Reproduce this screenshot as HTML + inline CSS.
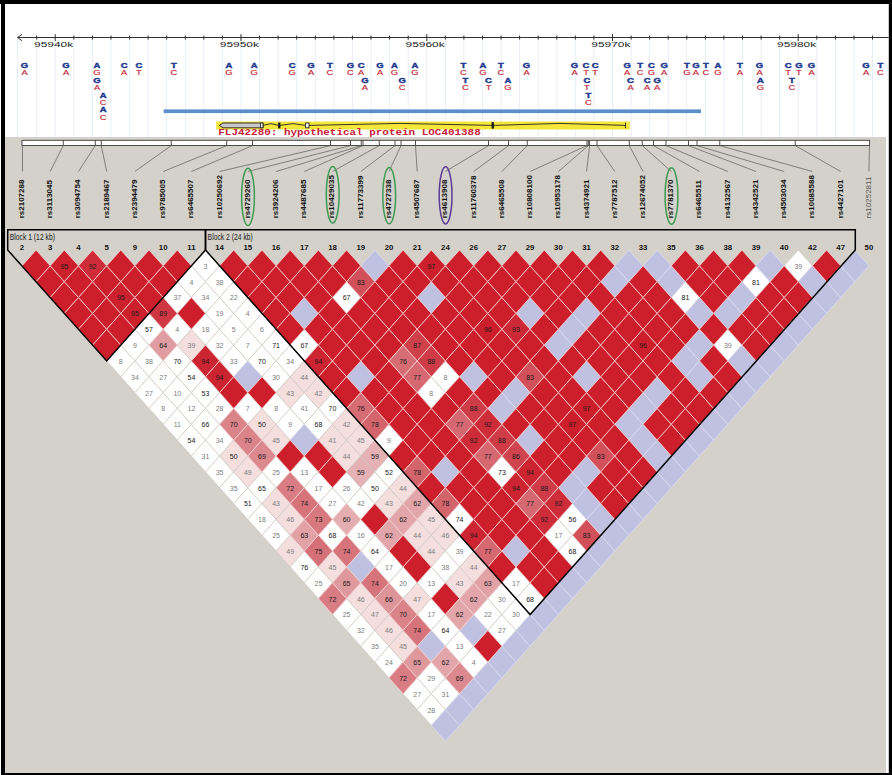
<!DOCTYPE html>
<html><head><meta charset="utf-8"><title>LD plot</title>
<style>
html,body{margin:0;padding:0}
body{width:892px;height:775px;position:relative;overflow:hidden;background:#000;font-family:"Liberation Sans",sans-serif}
text{font-family:"Liberation Sans",sans-serif}
.n{font-size:7.8px;text-anchor:middle}
.ax{font-size:7.1px;text-anchor:middle;fill:#222}
.sb{font-size:8px;font-weight:bold;text-anchor:middle;fill:#22398f;stroke:#22398f;stroke-width:.45px}
.sr{font-size:7.8px;text-anchor:middle;fill:#c4202f;stroke:#c4202f;stroke-width:.15px}
.gl{font-family:"Liberation Mono",monospace;font-size:8.6px;font-weight:bold;fill:#c8203a}
.rs{font-size:8px;font-weight:bold;fill:#111}
.rs2{font-size:8px;fill:#555}
.bl{font-size:8.2px;fill:#222}
.mk{font-size:7.8px;font-weight:bold;text-anchor:middle;fill:#111}
</style></head><body>
<svg width="892" height="775" viewBox="0 0 892 775" style="position:absolute;left:0;top:0">
<rect x="0" y="0" width="892" height="775" fill="#000"/>
<rect x="0" y="4" width="1" height="771" fill="#fff"/>
<rect x="5" y="4" width="883.8" height="133" fill="#fff"/>
<rect x="5" y="137" width="883.8" height="636" fill="#fbfbfa"/>
<rect x="5" y="137" width="881" height="636" fill="#d3d1c9"/>
<g stroke="#e8eef6" stroke-width="1">
<line x1="17.5" y1="33.5" x2="17.5" y2="137"/>
<line x1="36.7" y1="33.5" x2="36.7" y2="137"/>
<line x1="55.2" y1="33.5" x2="55.2" y2="137"/>
<line x1="73.8" y1="33.5" x2="73.8" y2="137"/>
<line x1="92.4" y1="33.5" x2="92.4" y2="137"/>
<line x1="111.0" y1="33.5" x2="111.0" y2="137"/>
<line x1="129.6" y1="33.5" x2="129.6" y2="137"/>
<line x1="148.1" y1="33.5" x2="148.1" y2="137"/>
<line x1="166.7" y1="33.5" x2="166.7" y2="137"/>
<line x1="185.3" y1="33.5" x2="185.3" y2="137"/>
<line x1="203.8" y1="33.5" x2="203.8" y2="137"/>
<line x1="222.4" y1="33.5" x2="222.4" y2="137"/>
<line x1="241.0" y1="33.5" x2="241.0" y2="137"/>
<line x1="259.6" y1="33.5" x2="259.6" y2="137"/>
<line x1="278.1" y1="33.5" x2="278.1" y2="137"/>
<line x1="296.7" y1="33.5" x2="296.7" y2="137"/>
<line x1="315.3" y1="33.5" x2="315.3" y2="137"/>
<line x1="333.9" y1="33.5" x2="333.9" y2="137"/>
<line x1="352.4" y1="33.5" x2="352.4" y2="137"/>
<line x1="371.0" y1="33.5" x2="371.0" y2="137"/>
<line x1="389.6" y1="33.5" x2="389.6" y2="137"/>
<line x1="408.2" y1="33.5" x2="408.2" y2="137"/>
<line x1="426.8" y1="33.5" x2="426.8" y2="137"/>
<line x1="445.3" y1="33.5" x2="445.3" y2="137"/>
<line x1="463.9" y1="33.5" x2="463.9" y2="137"/>
<line x1="482.5" y1="33.5" x2="482.5" y2="137"/>
<line x1="501.1" y1="33.5" x2="501.1" y2="137"/>
<line x1="519.6" y1="33.5" x2="519.6" y2="137"/>
<line x1="538.2" y1="33.5" x2="538.2" y2="137"/>
<line x1="556.8" y1="33.5" x2="556.8" y2="137"/>
<line x1="575.3" y1="33.5" x2="575.3" y2="137"/>
<line x1="593.9" y1="33.5" x2="593.9" y2="137"/>
<line x1="612.5" y1="33.5" x2="612.5" y2="137"/>
<line x1="631.1" y1="33.5" x2="631.1" y2="137"/>
<line x1="649.6" y1="33.5" x2="649.6" y2="137"/>
<line x1="668.2" y1="33.5" x2="668.2" y2="137"/>
<line x1="686.8" y1="33.5" x2="686.8" y2="137"/>
<line x1="705.4" y1="33.5" x2="705.4" y2="137"/>
<line x1="723.9" y1="33.5" x2="723.9" y2="137"/>
<line x1="742.5" y1="33.5" x2="742.5" y2="137"/>
<line x1="761.1" y1="33.5" x2="761.1" y2="137"/>
<line x1="779.7" y1="33.5" x2="779.7" y2="137"/>
<line x1="798.2" y1="33.5" x2="798.2" y2="137"/>
<line x1="816.8" y1="33.5" x2="816.8" y2="137"/>
<line x1="835.4" y1="33.5" x2="835.4" y2="137"/>
<line x1="854.0" y1="33.5" x2="854.0" y2="137"/>
<line x1="872.5" y1="33.5" x2="872.5" y2="137"/>
</g>
<g stroke="#333" stroke-width="1" fill="none">
<line x1="17.5" y1="37.5" x2="888.7" y2="37.5"/>
<polyline points="22,34.3 17.6,37.5 22,40.7"/>
<line x1="36.7" y1="35.6" x2="36.7" y2="39.6"/>
<line x1="55.2" y1="34.2" x2="55.2" y2="41"/>
<line x1="73.8" y1="35.6" x2="73.8" y2="39.6"/>
<line x1="92.4" y1="35.6" x2="92.4" y2="39.6"/>
<line x1="111.0" y1="35.6" x2="111.0" y2="39.6"/>
<line x1="129.6" y1="35.6" x2="129.6" y2="39.6"/>
<line x1="148.1" y1="35.6" x2="148.1" y2="39.6"/>
<line x1="166.7" y1="35.6" x2="166.7" y2="39.6"/>
<line x1="185.3" y1="35.6" x2="185.3" y2="39.6"/>
<line x1="203.8" y1="35.6" x2="203.8" y2="39.6"/>
<line x1="222.4" y1="35.6" x2="222.4" y2="39.6"/>
<line x1="241.0" y1="34.2" x2="241.0" y2="41"/>
<line x1="259.6" y1="35.6" x2="259.6" y2="39.6"/>
<line x1="278.1" y1="35.6" x2="278.1" y2="39.6"/>
<line x1="296.7" y1="35.6" x2="296.7" y2="39.6"/>
<line x1="315.3" y1="35.6" x2="315.3" y2="39.6"/>
<line x1="333.9" y1="35.6" x2="333.9" y2="39.6"/>
<line x1="352.4" y1="35.6" x2="352.4" y2="39.6"/>
<line x1="371.0" y1="35.6" x2="371.0" y2="39.6"/>
<line x1="389.6" y1="35.6" x2="389.6" y2="39.6"/>
<line x1="408.2" y1="35.6" x2="408.2" y2="39.6"/>
<line x1="426.8" y1="34.2" x2="426.8" y2="41"/>
<line x1="445.3" y1="35.6" x2="445.3" y2="39.6"/>
<line x1="463.9" y1="35.6" x2="463.9" y2="39.6"/>
<line x1="482.5" y1="35.6" x2="482.5" y2="39.6"/>
<line x1="501.1" y1="35.6" x2="501.1" y2="39.6"/>
<line x1="519.6" y1="35.6" x2="519.6" y2="39.6"/>
<line x1="538.2" y1="35.6" x2="538.2" y2="39.6"/>
<line x1="556.8" y1="35.6" x2="556.8" y2="39.6"/>
<line x1="575.3" y1="35.6" x2="575.3" y2="39.6"/>
<line x1="593.9" y1="35.6" x2="593.9" y2="39.6"/>
<line x1="612.5" y1="34.2" x2="612.5" y2="41"/>
<line x1="631.1" y1="35.6" x2="631.1" y2="39.6"/>
<line x1="649.6" y1="35.6" x2="649.6" y2="39.6"/>
<line x1="668.2" y1="35.6" x2="668.2" y2="39.6"/>
<line x1="686.8" y1="35.6" x2="686.8" y2="39.6"/>
<line x1="705.4" y1="35.6" x2="705.4" y2="39.6"/>
<line x1="723.9" y1="35.6" x2="723.9" y2="39.6"/>
<line x1="742.5" y1="35.6" x2="742.5" y2="39.6"/>
<line x1="761.1" y1="35.6" x2="761.1" y2="39.6"/>
<line x1="779.7" y1="35.6" x2="779.7" y2="39.6"/>
<line x1="798.2" y1="34.2" x2="798.2" y2="41"/>
<line x1="816.8" y1="35.6" x2="816.8" y2="39.6"/>
<line x1="835.4" y1="35.6" x2="835.4" y2="39.6"/>
<line x1="854.0" y1="35.6" x2="854.0" y2="39.6"/>
<line x1="872.5" y1="35.6" x2="872.5" y2="39.6"/>
</g>
<text transform="translate(53.6,47.3) scale(1.68,1)" class="ax">95940k</text>
<text transform="translate(239.4,47.3) scale(1.68,1)" class="ax">95950k</text>
<text transform="translate(425.1,47.3) scale(1.68,1)" class="ax">95960k</text>
<text transform="translate(610.9,47.3) scale(1.68,1)" class="ax">95970k</text>
<text transform="translate(796.6,47.3) scale(1.68,1)" class="ax">95980k</text>
<text transform="translate(24.5,68.0) scale(1.18,1)" class="sb">G</text>
<text transform="translate(24.5,75.4) scale(1.2,1)" class="sr">A</text>
<text transform="translate(66.0,68.0) scale(1.18,1)" class="sb">G</text>
<text transform="translate(66.0,75.4) scale(1.2,1)" class="sr">A</text>
<text transform="translate(97.0,68.0) scale(1.18,1)" class="sb">A</text>
<text transform="translate(97.0,75.4) scale(1.2,1)" class="sr">G</text>
<text transform="translate(97.0,82.8) scale(1.18,1)" class="sb">G</text>
<text transform="translate(97.0,90.2) scale(1.2,1)" class="sr">A</text>
<text transform="translate(103.2,97.5) scale(1.18,1)" class="sb">A</text>
<text transform="translate(103.2,104.9) scale(1.2,1)" class="sr">C</text>
<text transform="translate(103.2,112.2) scale(1.18,1)" class="sb">A</text>
<text transform="translate(103.2,119.7) scale(1.2,1)" class="sr">C</text>
<text transform="translate(124.2,68.0) scale(1.18,1)" class="sb">C</text>
<text transform="translate(124.2,75.4) scale(1.2,1)" class="sr">A</text>
<text transform="translate(138.8,68.0) scale(1.18,1)" class="sb">C</text>
<text transform="translate(138.8,75.4) scale(1.2,1)" class="sr">T</text>
<text transform="translate(173.8,68.0) scale(1.18,1)" class="sb">T</text>
<text transform="translate(173.8,75.4) scale(1.2,1)" class="sr">C</text>
<text transform="translate(229.0,68.0) scale(1.18,1)" class="sb">A</text>
<text transform="translate(229.0,75.4) scale(1.2,1)" class="sr">G</text>
<text transform="translate(254.2,68.0) scale(1.18,1)" class="sb">A</text>
<text transform="translate(254.2,75.4) scale(1.2,1)" class="sr">G</text>
<text transform="translate(292.2,68.0) scale(1.18,1)" class="sb">C</text>
<text transform="translate(292.2,75.4) scale(1.2,1)" class="sr">G</text>
<text transform="translate(311.0,68.0) scale(1.18,1)" class="sb">G</text>
<text transform="translate(311.0,75.4) scale(1.2,1)" class="sr">A</text>
<text transform="translate(329.8,68.0) scale(1.18,1)" class="sb">T</text>
<text transform="translate(329.8,75.4) scale(1.2,1)" class="sr">C</text>
<text transform="translate(350.5,68.0) scale(1.18,1)" class="sb">G</text>
<text transform="translate(350.5,75.4) scale(1.2,1)" class="sr">C</text>
<text transform="translate(361.2,68.0) scale(1.18,1)" class="sb">C</text>
<text transform="translate(361.2,75.4) scale(1.2,1)" class="sr">A</text>
<text transform="translate(380.0,68.0) scale(1.18,1)" class="sb">G</text>
<text transform="translate(380.0,75.4) scale(1.2,1)" class="sr">A</text>
<text transform="translate(394.5,68.0) scale(1.18,1)" class="sb">A</text>
<text transform="translate(394.5,75.4) scale(1.2,1)" class="sr">G</text>
<text transform="translate(415.0,68.0) scale(1.18,1)" class="sb">A</text>
<text transform="translate(415.0,75.4) scale(1.2,1)" class="sr">G</text>
<text transform="translate(364.8,82.8) scale(1.18,1)" class="sb">G</text>
<text transform="translate(364.8,90.2) scale(1.2,1)" class="sr">A</text>
<text transform="translate(402.2,82.8) scale(1.18,1)" class="sb">G</text>
<text transform="translate(402.2,90.2) scale(1.2,1)" class="sr">C</text>
<text transform="translate(463.5,68.0) scale(1.18,1)" class="sb">T</text>
<text transform="translate(463.5,75.4) scale(1.2,1)" class="sr">C</text>
<text transform="translate(482.8,68.0) scale(1.18,1)" class="sb">A</text>
<text transform="translate(482.8,75.4) scale(1.2,1)" class="sr">G</text>
<text transform="translate(501.0,68.0) scale(1.18,1)" class="sb">T</text>
<text transform="translate(501.0,75.4) scale(1.2,1)" class="sr">C</text>
<text transform="translate(526.5,68.0) scale(1.18,1)" class="sb">G</text>
<text transform="translate(526.5,75.4) scale(1.2,1)" class="sr">A</text>
<text transform="translate(574.5,68.0) scale(1.18,1)" class="sb">G</text>
<text transform="translate(574.5,75.4) scale(1.2,1)" class="sr">A</text>
<text transform="translate(586.0,68.0) scale(1.18,1)" class="sb">C</text>
<text transform="translate(586.0,75.4) scale(1.2,1)" class="sr">T</text>
<text transform="translate(595.2,68.0) scale(1.18,1)" class="sb">C</text>
<text transform="translate(595.2,75.4) scale(1.2,1)" class="sr">T</text>
<text transform="translate(627.2,68.0) scale(1.18,1)" class="sb">G</text>
<text transform="translate(627.2,75.4) scale(1.2,1)" class="sr">A</text>
<text transform="translate(640.2,68.0) scale(1.18,1)" class="sb">T</text>
<text transform="translate(640.2,75.4) scale(1.2,1)" class="sr">C</text>
<text transform="translate(651.5,68.0) scale(1.18,1)" class="sb">C</text>
<text transform="translate(651.5,75.4) scale(1.2,1)" class="sr">G</text>
<text transform="translate(664.2,68.0) scale(1.18,1)" class="sb">G</text>
<text transform="translate(664.2,75.4) scale(1.2,1)" class="sr">A</text>
<text transform="translate(465.5,82.8) scale(1.18,1)" class="sb">T</text>
<text transform="translate(465.5,90.2) scale(1.2,1)" class="sr">C</text>
<text transform="translate(488.5,82.8) scale(1.18,1)" class="sb">C</text>
<text transform="translate(488.5,90.2) scale(1.2,1)" class="sr">T</text>
<text transform="translate(507.8,82.8) scale(1.18,1)" class="sb">A</text>
<text transform="translate(507.8,90.2) scale(1.2,1)" class="sr">G</text>
<text transform="translate(586.8,82.8) scale(1.18,1)" class="sb">C</text>
<text transform="translate(586.8,90.2) scale(1.2,1)" class="sr">T</text>
<text transform="translate(630.5,82.8) scale(1.18,1)" class="sb">C</text>
<text transform="translate(630.5,90.2) scale(1.2,1)" class="sr">A</text>
<text transform="translate(647.2,82.8) scale(1.18,1)" class="sb">C</text>
<text transform="translate(647.2,90.2) scale(1.2,1)" class="sr">A</text>
<text transform="translate(657.2,82.8) scale(1.18,1)" class="sb">G</text>
<text transform="translate(657.2,90.2) scale(1.2,1)" class="sr">A</text>
<text transform="translate(588.5,97.5) scale(1.18,1)" class="sb">T</text>
<text transform="translate(588.5,104.9) scale(1.2,1)" class="sr">C</text>
<text transform="translate(687.0,68.0) scale(1.18,1)" class="sb">T</text>
<text transform="translate(687.0,75.4) scale(1.2,1)" class="sr">G</text>
<text transform="translate(695.8,68.0) scale(1.18,1)" class="sb">G</text>
<text transform="translate(695.8,75.4) scale(1.2,1)" class="sr">A</text>
<text transform="translate(705.8,68.0) scale(1.18,1)" class="sb">T</text>
<text transform="translate(705.8,75.4) scale(1.2,1)" class="sr">C</text>
<text transform="translate(717.8,68.0) scale(1.18,1)" class="sb">A</text>
<text transform="translate(717.8,75.4) scale(1.2,1)" class="sr">G</text>
<text transform="translate(739.8,68.0) scale(1.18,1)" class="sb">T</text>
<text transform="translate(739.8,75.4) scale(1.2,1)" class="sr">A</text>
<text transform="translate(759.5,68.0) scale(1.18,1)" class="sb">G</text>
<text transform="translate(759.5,75.4) scale(1.2,1)" class="sr">A</text>
<text transform="translate(788.2,68.0) scale(1.18,1)" class="sb">C</text>
<text transform="translate(788.2,75.4) scale(1.2,1)" class="sr">T</text>
<text transform="translate(798.8,68.0) scale(1.18,1)" class="sb">G</text>
<text transform="translate(798.8,75.4) scale(1.2,1)" class="sr">T</text>
<text transform="translate(811.5,68.0) scale(1.18,1)" class="sb">G</text>
<text transform="translate(811.5,75.4) scale(1.2,1)" class="sr">A</text>
<text transform="translate(866.0,68.0) scale(1.18,1)" class="sb">G</text>
<text transform="translate(866.0,75.4) scale(1.2,1)" class="sr">A</text>
<text transform="translate(880.5,68.0) scale(1.18,1)" class="sb">T</text>
<text transform="translate(880.5,75.4) scale(1.2,1)" class="sr">C</text>
<text transform="translate(760.5,82.8) scale(1.18,1)" class="sb">A</text>
<text transform="translate(760.5,90.2) scale(1.2,1)" class="sr">G</text>
<text transform="translate(792.0,82.8) scale(1.18,1)" class="sb">T</text>
<text transform="translate(792.0,90.2) scale(1.2,1)" class="sr">C</text>
<rect x="163.7" y="109.4" width="537.3" height="3.7" fill="#5c8fcc"/>
<rect x="216.2" y="121.5" width="413.6" height="8" fill="#f3e73a"/>
<g stroke="#222" stroke-width="0.9" fill="none">
<polygon points="219.3,125.4 223,123 263,123 263,127.8 223,127.8" fill="#c9c9c9"/>
<rect x="260.6" y="123" width="2.4" height="4.8" fill="#fff"/>
<polyline points="263,125.4 271,123.6 278.6,125.4"/>
<polyline points="280,125.4 293,123.6 305.6,125.4"/>
<polyline points="309,125.4 400,123.4 492,125.4"/>
<polyline points="493.5,125.4 560,123.4 625.5,125.4"/>
<rect x="278.6" y="123" width="1.4" height="5" fill="#111"/>
<rect x="305.6" y="123" width="3.4" height="4.8" fill="#fff"/>
<rect x="492" y="122.6" width="1.5" height="5.6" fill="#111"/>
<line x1="625.5" y1="122.6" x2="625.5" y2="128.2"/>
</g>
<text transform="translate(218.3,134.9) scale(1.274,1)" class="gl">FLJ42280: hypothetical protein LOC401388</text>
<g stroke="#3a3a3a" stroke-width="0.9" fill="none">
<rect x="22" y="140.3" width="847.6" height="5.2" fill="#fff"/>
<line x1="63.25" y1="140.3" x2="63.25" y2="145.5"/>
<line x1="95.25" y1="140.3" x2="95.25" y2="145.5"/>
<line x1="101.25" y1="140.3" x2="101.25" y2="145.5"/>
<line x1="171.25" y1="140.3" x2="171.25" y2="145.5"/>
<line x1="226.75" y1="140.3" x2="226.75" y2="145.5"/>
<line x1="252.5" y1="140.3" x2="252.5" y2="145.5"/>
<line x1="330.5" y1="140.3" x2="330.5" y2="145.5"/>
<line x1="350.5" y1="140.3" x2="350.5" y2="145.5"/>
<line x1="361.25" y1="140.3" x2="361.25" y2="145.5"/>
<line x1="363" y1="140.3" x2="363" y2="145.5"/>
<line x1="379.25" y1="140.3" x2="379.25" y2="145.5"/>
<line x1="395" y1="140.3" x2="395" y2="145.5"/>
<line x1="401" y1="140.3" x2="401" y2="145.5"/>
<line x1="415.5" y1="140.3" x2="415.5" y2="145.5"/>
<line x1="488.5" y1="140.3" x2="488.5" y2="145.5"/>
<line x1="508.5" y1="140.3" x2="508.5" y2="145.5"/>
<line x1="527.25" y1="140.3" x2="527.25" y2="145.5"/>
<line x1="587" y1="140.3" x2="587" y2="145.5"/>
<line x1="588.3" y1="140.3" x2="588.3" y2="145.5"/>
<line x1="589.6" y1="140.3" x2="589.6" y2="145.5"/>
<line x1="597" y1="140.3" x2="597" y2="145.5"/>
<line x1="629.25" y1="140.3" x2="629.25" y2="145.5"/>
<line x1="642.25" y1="140.3" x2="642.25" y2="145.5"/>
<line x1="653.5" y1="140.3" x2="653.5" y2="145.5"/>
<line x1="666" y1="140.3" x2="666" y2="145.5"/>
<line x1="688.5" y1="140.3" x2="688.5" y2="145.5"/>
<line x1="697" y1="140.3" x2="697" y2="145.5"/>
<line x1="719.75" y1="140.3" x2="719.75" y2="145.5"/>
<line x1="795.25" y1="140.3" x2="795.25" y2="145.5"/>
</g>
<g stroke="#5a5a58" stroke-width="0.7">
<line x1="22.5" y1="145.6" x2="22.5" y2="171.5"/>
<line x1="63.25" y1="145.6" x2="50.2" y2="171.5"/>
<line x1="95.25" y1="145.6" x2="78.5" y2="171.5"/>
<line x1="101.25" y1="145.6" x2="106.7" y2="171.5"/>
<line x1="171.25" y1="145.6" x2="134.9" y2="171.5"/>
<line x1="226.75" y1="145.6" x2="163.2" y2="171.5"/>
<line x1="252.5" y1="145.6" x2="191.4" y2="171.5"/>
<line x1="330.5" y1="145.6" x2="219.6" y2="171.5"/>
<line x1="350.5" y1="145.6" x2="247.8" y2="171.5"/>
<line x1="361.25" y1="145.6" x2="276.1" y2="171.5"/>
<line x1="363" y1="145.6" x2="304.3" y2="171.5"/>
<line x1="379.25" y1="145.6" x2="332.5" y2="171.5"/>
<line x1="395" y1="145.6" x2="360.8" y2="171.5"/>
<line x1="401" y1="145.6" x2="389.0" y2="171.5"/>
<line x1="415.5" y1="145.6" x2="417.2" y2="171.5"/>
<line x1="488.5" y1="145.6" x2="445.4" y2="171.5"/>
<line x1="508.5" y1="145.6" x2="473.7" y2="171.5"/>
<line x1="527.25" y1="145.6" x2="501.9" y2="171.5"/>
<line x1="587" y1="145.6" x2="530.1" y2="171.5"/>
<line x1="588.3" y1="145.6" x2="558.4" y2="171.5"/>
<line x1="589.6" y1="145.6" x2="586.6" y2="171.5"/>
<line x1="597" y1="145.6" x2="614.8" y2="171.5"/>
<line x1="629.25" y1="145.6" x2="643.1" y2="171.5"/>
<line x1="642.25" y1="145.6" x2="671.3" y2="171.5"/>
<line x1="653.5" y1="145.6" x2="699.5" y2="171.5"/>
<line x1="666" y1="145.6" x2="727.8" y2="171.5"/>
<line x1="688.5" y1="145.6" x2="756.0" y2="171.5"/>
<line x1="697" y1="145.6" x2="784.2" y2="171.5"/>
<line x1="719.75" y1="145.6" x2="812.4" y2="171.5"/>
<line x1="795.25" y1="145.6" x2="840.7" y2="171.5"/>
<line x1="869.5" y1="145.6" x2="868.9" y2="171.5"/>
</g>
<text transform="translate(23.9,218.3) rotate(-90)" class="rs">rs2107288</text>
<text transform="translate(52.1,218.3) rotate(-90)" class="rs">rs3113045</text>
<text transform="translate(80.4,218.3) rotate(-90)" class="rs">rs3094754</text>
<text transform="translate(108.6,218.3) rotate(-90)" class="rs">rs2189467</text>
<text transform="translate(136.8,218.3) rotate(-90)" class="rs">rs2394479</text>
<text transform="translate(165.1,218.3) rotate(-90)" class="rs">rs9785005</text>
<text transform="translate(193.3,218.3) rotate(-90)" class="rs">rs6465507</text>
<text transform="translate(221.5,218.3) rotate(-90)" class="rs">rs10250692</text>
<text transform="translate(249.7,218.3) rotate(-90)" class="rs">rs4729260</text>
<text transform="translate(278.0,218.3) rotate(-90)" class="rs">rs3924206</text>
<text transform="translate(306.2,218.3) rotate(-90)" class="rs">rs4487685</text>
<text transform="translate(334.4,218.3) rotate(-90)" class="rs">rs10429035</text>
<text transform="translate(362.7,218.3) rotate(-90)" class="rs">rs11773399</text>
<text transform="translate(390.9,218.3) rotate(-90)" class="rs">rs4727338</text>
<text transform="translate(419.1,218.3) rotate(-90)" class="rs">rs4507687</text>
<text transform="translate(447.3,218.3) rotate(-90)" class="rs">rs4613908</text>
<text transform="translate(475.6,218.3) rotate(-90)" class="rs">rs11760378</text>
<text transform="translate(503.8,218.3) rotate(-90)" class="rs">rs6465508</text>
<text transform="translate(532.0,218.3) rotate(-90)" class="rs">rs10808100</text>
<text transform="translate(560.3,218.3) rotate(-90)" class="rs">rs10953178</text>
<text transform="translate(588.5,218.3) rotate(-90)" class="rs">rs4374921</text>
<text transform="translate(616.7,218.3) rotate(-90)" class="rs">rs7787512</text>
<text transform="translate(645.0,218.3) rotate(-90)" class="rs">rs12674052</text>
<text transform="translate(673.2,218.3) rotate(-90)" class="rs">rs7781370</text>
<text transform="translate(701.4,218.3) rotate(-90)" class="rs">rs6465511</text>
<text transform="translate(729.6,218.3) rotate(-90)" class="rs">rs4132567</text>
<text transform="translate(757.9,218.3) rotate(-90)" class="rs">rs4342521</text>
<text transform="translate(786.1,218.3) rotate(-90)" class="rs">rs4503034</text>
<text transform="translate(814.3,218.3) rotate(-90)" class="rs">rs10085588</text>
<text transform="translate(842.6,218.3) rotate(-90)" class="rs">rs4427101</text>
<text transform="translate(870.8,218.3) rotate(-90)" class="rs2">rs10252811</text>
<ellipse cx="248.0" cy="196.9" rx="6.4" ry="28.6" fill="none" stroke="#3d9b52" stroke-width="1.5"/>
<ellipse cx="332.7" cy="194.7" rx="6.4" ry="28.3" fill="none" stroke="#3d9b52" stroke-width="1.5"/>
<ellipse cx="389.2" cy="195.7" rx="6.4" ry="28.1" fill="none" stroke="#3d9b52" stroke-width="1.5"/>
<ellipse cx="671.5" cy="196" rx="6.4" ry="28.3" fill="none" stroke="#3d9b52" stroke-width="1.5"/>
<ellipse cx="445.6" cy="195.3" rx="6.4" ry="28.6" fill="none" stroke="#5b3b96" stroke-width="1.5"/>
<text transform="translate(9.7,240.2) scale(.83,1)" class="bl">Block 1 (12 kb)</text>
<text transform="translate(207.6,240.2) scale(.83,1)" class="bl">Block 2 (24 kb)</text>
<text x="22.0" y="250.3" class="mk">2</text>
<text x="50.2" y="250.3" class="mk">3</text>
<text x="78.5" y="250.3" class="mk">4</text>
<text x="106.7" y="250.3" class="mk">5</text>
<text x="134.9" y="250.3" class="mk">9</text>
<text x="163.2" y="250.3" class="mk">10</text>
<text x="191.4" y="250.3" class="mk">11</text>
<text x="219.6" y="250.3" class="mk">14</text>
<text x="247.8" y="250.3" class="mk">15</text>
<text x="276.1" y="250.3" class="mk">16</text>
<text x="304.3" y="250.3" class="mk">17</text>
<text x="332.5" y="250.3" class="mk">18</text>
<text x="360.8" y="250.3" class="mk">19</text>
<text x="389.0" y="250.3" class="mk">20</text>
<text x="417.2" y="250.3" class="mk">21</text>
<text x="445.4" y="250.3" class="mk">24</text>
<text x="473.7" y="250.3" class="mk">26</text>
<text x="501.9" y="250.3" class="mk">27</text>
<text x="530.1" y="250.3" class="mk">29</text>
<text x="558.4" y="250.3" class="mk">30</text>
<text x="586.6" y="250.3" class="mk">31</text>
<text x="614.8" y="250.3" class="mk">32</text>
<text x="643.1" y="250.3" class="mk">33</text>
<text x="671.3" y="250.3" class="mk">35</text>
<text x="699.5" y="250.3" class="mk">36</text>
<text x="727.8" y="250.3" class="mk">38</text>
<text x="756.0" y="250.3" class="mk">39</text>
<text x="784.2" y="250.3" class="mk">40</text>
<text x="812.4" y="250.3" class="mk">42</text>
<text x="840.7" y="250.3" class="mk">47</text>
<text x="868.9" y="250.3" class="mk">50</text>
<g stroke="#cfc8c2" stroke-width="0.7">
<polygon points="120.8,345.0 134.9,360.9 120.8,376.8 106.7,360.9" fill="#ffffff"/>
<polygon points="134.9,360.9 149.0,376.8 134.9,392.6 120.8,376.8" fill="#ffffff"/>
<polygon points="149.0,376.8 163.2,392.6 149.0,408.5 134.9,392.6" fill="#ffffff"/>
<polygon points="163.2,392.6 177.3,408.5 163.2,424.3 149.0,408.5" fill="#ffffff"/>
<polygon points="177.3,408.4 191.4,424.3 177.3,440.2 163.2,424.3" fill="#ffffff"/>
<polygon points="191.4,424.3 205.5,440.1 191.4,456.0 177.3,440.1" fill="#ffffff"/>
<polygon points="205.5,440.1 219.6,456.0 205.5,471.9 191.4,456.0" fill="#ffffff"/>
<polygon points="219.6,456.0 233.7,471.9 219.6,487.7 205.5,471.9" fill="#ffffff"/>
<polygon points="233.7,471.9 247.8,487.7 233.7,503.6 219.6,487.7" fill="#ffffff"/>
<polygon points="247.8,487.7 262.0,503.6 247.8,519.4 233.7,503.6" fill="#ffffff"/>
<polygon points="262.0,503.5 276.1,519.4 262.0,535.2 247.8,519.4" fill="#ffffff"/>
<polygon points="276.1,519.4 290.2,535.2 276.1,551.1 262.0,535.2" fill="#ffffff"/>
<polygon points="290.2,535.2 304.3,551.1 290.2,567.0 276.1,551.1" fill="#f4dede"/>
<polygon points="304.3,551.1 318.4,567.0 304.3,582.8 290.2,567.0" fill="#ffffff"/>
<polygon points="318.4,566.9 332.5,582.8 318.4,598.6 304.3,582.8" fill="#ffffff"/>
<polygon points="346.6,598.6 360.8,614.5 346.6,630.4 332.5,614.5" fill="#ffffff"/>
<polygon points="360.8,614.5 374.9,630.4 360.8,646.2 346.6,630.4" fill="#ffffff"/>
<polygon points="374.9,630.4 389.0,646.2 374.9,662.1 360.8,646.2" fill="#ffffff"/>
<polygon points="389.0,646.2 403.1,662.0 389.0,677.9 374.9,662.0" fill="#ffffff"/>
<polygon points="417.2,677.9 431.3,693.8 417.2,709.6 403.1,693.8" fill="#ffffff"/>
<polygon points="431.3,693.8 445.4,709.6 431.3,725.5 417.2,709.6" fill="#ffffff"/>
<polygon points="134.9,329.2 149.0,345.1 134.9,360.9 120.8,345.1" fill="#ffffff"/>
<polygon points="149.0,345.0 163.2,360.9 149.0,376.8 134.9,360.9" fill="#ffffff"/>
<polygon points="163.2,360.9 177.3,376.8 163.2,392.6 149.0,376.8" fill="#ffffff"/>
<polygon points="177.3,376.8 191.4,392.6 177.3,408.5 163.2,392.6" fill="#ffffff"/>
<polygon points="191.4,392.6 205.5,408.5 191.4,424.3 177.3,408.5" fill="#ffffff"/>
<polygon points="205.5,408.4 219.6,424.3 205.5,440.2 191.4,424.3" fill="#ffffff"/>
<polygon points="219.6,424.3 233.7,440.1 219.6,456.0 205.5,440.1" fill="#ffffff"/>
<polygon points="233.7,440.1 247.8,456.0 233.7,471.9 219.6,456.0" fill="#f4dede"/>
<polygon points="247.8,456.0 262.0,471.9 247.8,487.7 233.7,471.9" fill="#f4dede"/>
<polygon points="262.0,471.9 276.1,487.7 262.0,503.6 247.8,487.7" fill="#ffffff"/>
<polygon points="276.1,487.7 290.2,503.6 276.1,519.4 262.0,503.6" fill="#f4dede"/>
<polygon points="290.2,503.5 304.3,519.4 290.2,535.2 276.1,519.4" fill="#f4dede"/>
<polygon points="332.5,551.1 346.6,567.0 332.5,582.8 318.4,567.0" fill="#f4dede"/>
<polygon points="360.8,582.8 374.9,598.6 360.8,614.5 346.6,598.6" fill="#f4dede"/>
<polygon points="374.9,598.6 389.0,614.5 374.9,630.4 360.8,614.5" fill="#f4dede"/>
<polygon points="389.0,614.5 403.1,630.4 389.0,646.2 374.9,630.4" fill="#f4dede"/>
<polygon points="403.1,630.4 417.2,646.2 403.1,662.1 389.0,646.2" fill="#f4dede"/>
<polygon points="431.3,662.0 445.4,677.9 431.3,693.8 417.2,677.9" fill="#ffffff"/>
<polygon points="445.4,677.9 459.6,693.8 445.4,709.6 431.3,693.8" fill="#ffffff"/>
<polygon points="149.0,313.3 163.2,329.2 149.0,345.1 134.9,329.2" fill="#ffffff"/>
<polygon points="177.3,345.0 191.4,360.9 177.3,376.8 163.2,360.9" fill="#ffffff"/>
<polygon points="191.4,360.9 205.5,376.8 191.4,392.6 177.3,376.8" fill="#ffffff"/>
<polygon points="205.5,376.8 219.6,392.6 205.5,408.5 191.4,392.6" fill="#ffffff"/>
<polygon points="219.6,392.6 233.7,408.5 219.6,424.3 205.5,408.5" fill="#ffffff"/>
<polygon points="276.1,456.0 290.2,471.9 276.1,487.7 262.0,471.9" fill="#ffffff"/>
<polygon points="332.5,519.4 346.6,535.2 332.5,551.1 318.4,535.2" fill="#ffffff"/>
<polygon points="177.3,313.3 191.4,329.2 177.3,345.1 163.2,329.2" fill="#ffffff"/>
<polygon points="191.4,329.2 205.5,345.1 191.4,360.9 177.3,345.1" fill="#f4dede"/>
<polygon points="247.8,392.6 262.0,408.5 247.8,424.3 233.7,408.5" fill="#ffffff"/>
<polygon points="262.0,408.4 276.1,424.3 262.0,440.2 247.8,424.3" fill="#f4dede"/>
<polygon points="276.1,424.3 290.2,440.1 276.1,456.0 262.0,440.1" fill="#f4dede"/>
<polygon points="304.3,456.0 318.4,471.9 304.3,487.7 290.2,471.9" fill="#ffffff"/>
<polygon points="318.4,471.9 332.5,487.7 318.4,503.6 304.3,487.7" fill="#ffffff"/>
<polygon points="332.5,487.7 346.6,503.6 332.5,519.4 318.4,503.6" fill="#ffffff"/>
<polygon points="360.8,519.4 374.9,535.2 360.8,551.1 346.6,535.2" fill="#ffffff"/>
<polygon points="374.9,535.2 389.0,551.1 374.9,567.0 360.8,551.1" fill="#ffffff"/>
<polygon points="389.0,551.1 403.1,567.0 389.0,582.8 374.9,567.0" fill="#ffffff"/>
<polygon points="403.1,566.9 417.2,582.8 403.1,598.6 389.0,582.8" fill="#ffffff"/>
<polygon points="417.2,582.8 431.3,598.6 417.2,614.5 403.1,598.6" fill="#f4dede"/>
<polygon points="431.3,598.6 445.4,614.5 431.3,630.4 417.2,614.5" fill="#ffffff"/>
<polygon points="445.4,614.5 459.6,630.4 445.4,646.2 431.3,630.4" fill="#ffffff"/>
<polygon points="459.6,630.4 473.7,646.2 459.6,662.1 445.4,646.2" fill="#ffffff"/>
<polygon points="473.7,646.2 487.8,662.0 473.7,677.9 459.6,662.0" fill="#ffffff"/>
<polygon points="177.3,281.6 191.4,297.5 177.3,313.4 163.2,297.5" fill="#ffffff"/>
<polygon points="205.5,313.3 219.6,329.2 205.5,345.1 191.4,329.2" fill="#ffffff"/>
<polygon points="219.6,329.2 233.7,345.1 219.6,360.9 205.5,345.1" fill="#ffffff"/>
<polygon points="233.7,345.0 247.8,360.9 233.7,376.8 219.6,360.9" fill="#ffffff"/>
<polygon points="276.1,392.6 290.2,408.5 276.1,424.3 262.0,408.5" fill="#ffffff"/>
<polygon points="290.2,408.4 304.3,424.3 290.2,440.2 276.1,424.3" fill="#ffffff"/>
<polygon points="346.6,471.9 360.8,487.7 346.6,503.6 332.5,487.7" fill="#ffffff"/>
<polygon points="360.8,487.7 374.9,503.6 360.8,519.4 346.6,503.6" fill="#ffffff"/>
<polygon points="431.3,566.9 445.4,582.8 431.3,598.6 417.2,582.8" fill="#ffffff"/>
<polygon points="191.4,265.8 205.5,281.7 191.4,297.5 177.3,281.7" fill="#ffffff"/>
<polygon points="205.5,281.6 219.6,297.5 205.5,313.4 191.4,297.5" fill="#ffffff"/>
<polygon points="219.6,297.5 233.7,313.4 219.6,329.2 205.5,313.4" fill="#ffffff"/>
<polygon points="233.7,313.3 247.8,329.2 233.7,345.1 219.6,329.2" fill="#ffffff"/>
<polygon points="247.8,329.2 262.0,345.1 247.8,360.9 233.7,345.1" fill="#ffffff"/>
<polygon points="262.0,345.0 276.1,360.9 262.0,376.8 247.8,360.9" fill="#ffffff"/>
<polygon points="276.1,360.9 290.2,376.8 276.1,392.6 262.0,376.8" fill="#ffffff"/>
<polygon points="290.2,376.8 304.3,392.6 290.2,408.5 276.1,392.6" fill="#f4dede"/>
<polygon points="304.3,392.6 318.4,408.5 304.3,424.3 290.2,408.5" fill="#ffffff"/>
<polygon points="318.4,408.4 332.5,424.3 318.4,440.2 304.3,424.3" fill="#ffffff"/>
<polygon points="332.5,424.3 346.6,440.1 332.5,456.0 318.4,440.1" fill="#f4dede"/>
<polygon points="346.6,440.1 360.8,456.0 346.6,471.9 332.5,456.0" fill="#f4dede"/>
<polygon points="360.8,456.0 374.9,471.9 360.8,487.7 346.6,471.9" fill="#e5b1b4"/>
<polygon points="374.9,471.9 389.0,487.7 374.9,503.6 360.8,487.7" fill="#ffffff"/>
<polygon points="389.0,487.7 403.1,503.6 389.0,519.4 374.9,503.6" fill="#f4dede"/>
<polygon points="417.2,519.4 431.3,535.2 417.2,551.1 403.1,535.2" fill="#f4dede"/>
<polygon points="431.3,535.2 445.4,551.1 431.3,567.0 417.2,551.1" fill="#f4dede"/>
<polygon points="445.4,551.1 459.6,567.0 445.4,582.8 431.3,567.0" fill="#ffffff"/>
<polygon points="459.6,566.9 473.7,582.8 459.6,598.6 445.4,582.8" fill="#f4dede"/>
<polygon points="487.8,598.6 501.9,614.5 487.8,630.4 473.7,614.5" fill="#ffffff"/>
<polygon points="501.9,614.5 516.0,630.4 501.9,646.2 487.8,630.4" fill="#ffffff"/>
<polygon points="205.5,250.0 219.6,265.8 205.5,281.7 191.4,265.8" fill="#ffffff"/>
<polygon points="219.6,265.8 233.7,281.7 219.6,297.5 205.5,281.7" fill="#ffffff"/>
<polygon points="233.7,281.6 247.8,297.5 233.7,313.4 219.6,297.5" fill="#ffffff"/>
<polygon points="247.8,297.5 262.0,313.4 247.8,329.2 233.7,313.4" fill="#ffffff"/>
<polygon points="262.0,313.3 276.1,329.2 262.0,345.1 247.8,329.2" fill="#ffffff"/>
<polygon points="276.1,329.2 290.2,345.1 276.1,360.9 262.0,345.1" fill="#ffffff"/>
<polygon points="290.2,345.0 304.3,360.9 290.2,376.8 276.1,360.9" fill="#ffffff"/>
<polygon points="304.3,360.9 318.4,376.8 304.3,392.6 290.2,376.8" fill="#f4dede"/>
<polygon points="318.4,376.8 332.5,392.6 318.4,408.5 304.3,392.6" fill="#f4dede"/>
<polygon points="332.5,392.6 346.6,408.5 332.5,424.3 318.4,408.5" fill="#ffffff"/>
<polygon points="346.6,408.4 360.8,424.3 346.6,440.2 332.5,424.3" fill="#f4dede"/>
<polygon points="360.8,424.3 374.9,440.1 360.8,456.0 346.6,440.1" fill="#f4dede"/>
<polygon points="374.9,440.1 389.0,456.0 374.9,471.9 360.8,456.0" fill="#e5b1b4"/>
<polygon points="389.0,456.0 403.1,471.9 389.0,487.7 374.9,471.9" fill="#ffffff"/>
<polygon points="403.1,471.9 417.2,487.7 403.1,503.6 389.0,487.7" fill="#f4dede"/>
<polygon points="431.3,503.5 445.4,519.4 431.3,535.2 417.2,519.4" fill="#f4dede"/>
<polygon points="445.4,519.4 459.6,535.2 445.4,551.1 431.3,535.2" fill="#f4dede"/>
<polygon points="459.6,535.2 473.7,551.1 459.6,567.0 445.4,551.1" fill="#ffffff"/>
<polygon points="473.7,551.1 487.8,567.0 473.7,582.8 459.6,567.0" fill="#f4dede"/>
<polygon points="501.9,582.8 516.0,598.6 501.9,614.5 487.8,598.6" fill="#ffffff"/>
<polygon points="516.0,598.6 530.1,614.5 516.0,630.4 501.9,614.5" fill="#ffffff"/>
<polygon points="304.3,329.2 318.4,345.1 304.3,360.9 290.2,345.1" fill="#ffffff"/>
<polygon points="389.0,424.3 403.1,440.1 389.0,456.0 374.9,440.1" fill="#ffffff"/>
<polygon points="459.6,503.5 473.7,519.4 459.6,535.2 445.4,519.4" fill="#ffffff"/>
<polygon points="516.0,566.9 530.1,582.8 516.0,598.6 501.9,582.8" fill="#ffffff"/>
<polygon points="530.1,582.8 544.3,598.6 530.1,614.5 516.0,598.6" fill="#ffffff"/>
<polygon points="346.6,281.6 360.8,297.5 346.6,313.4 332.5,297.5" fill="#ffffff"/>
<polygon points="431.3,376.8 445.4,392.6 431.3,408.5 417.2,392.6" fill="#ffffff"/>
<polygon points="501.9,456.0 516.0,471.9 501.9,487.7 487.8,471.9" fill="#ffffff"/>
<polygon points="558.4,519.4 572.5,535.2 558.4,551.1 544.3,535.2" fill="#ffffff"/>
<polygon points="572.5,535.2 586.6,551.1 572.5,567.0 558.4,551.1" fill="#ffffff"/>
<polygon points="445.4,360.9 459.6,376.8 445.4,392.6 431.3,376.8" fill="#ffffff"/>
<polygon points="572.5,503.5 586.6,519.4 572.5,535.2 558.4,519.4" fill="#ffffff"/>
<polygon points="685.4,281.6 699.5,297.5 685.4,313.4 671.3,297.5" fill="#ffffff"/>
<polygon points="727.8,329.2 741.9,345.1 727.8,360.9 713.6,345.1" fill="#ffffff"/>
<polygon points="756.0,265.8 770.1,281.7 756.0,297.5 741.9,281.7" fill="#ffffff"/>
<polygon points="798.3,250.0 812.4,265.8 798.3,281.7 784.2,265.8" fill="#ffffff"/>
</g>
<g stroke="#dedef2" stroke-width="0.8">
<polygon points="445.4,709.6 459.6,725.5 445.4,741.3 431.3,725.5" fill="#c0c0e1"/>
<polygon points="459.6,693.8 473.7,709.6 459.6,725.5 445.4,709.6" fill="#c0c0e1"/>
<polygon points="360.8,551.1 374.9,567.0 360.8,582.8 346.6,567.0" fill="#c0c0e1"/>
<polygon points="431.3,630.4 445.4,646.2 431.3,662.1 417.2,646.2" fill="#c0c0e1"/>
<polygon points="473.7,677.9 487.8,693.8 473.7,709.6 459.6,693.8" fill="#c0c0e1"/>
<polygon points="487.8,662.0 501.9,677.9 487.8,693.8 473.7,677.9" fill="#c0c0e1"/>
<polygon points="247.8,360.9 262.0,376.8 247.8,392.6 233.7,376.8" fill="#c0c0e1"/>
<polygon points="304.3,424.3 318.4,440.1 304.3,456.0 290.2,440.1" fill="#c0c0e1"/>
<polygon points="473.7,614.5 487.8,630.4 473.7,646.2 459.6,630.4" fill="#c0c0e1"/>
<polygon points="501.9,646.2 516.0,662.0 501.9,677.9 487.8,662.0" fill="#c0c0e1"/>
<polygon points="516.0,630.4 530.1,646.2 516.0,662.1 501.9,646.2" fill="#c0c0e1"/>
<polygon points="530.1,614.5 544.3,630.4 530.1,646.2 516.0,630.4" fill="#c0c0e1"/>
<polygon points="544.3,598.6 558.4,614.5 544.3,630.4 530.1,614.5" fill="#c0c0e1"/>
<polygon points="304.3,297.5 318.4,313.4 304.3,329.2 290.2,313.4" fill="#c0c0e1"/>
<polygon points="360.8,360.9 374.9,376.8 360.8,392.6 346.6,376.8" fill="#c0c0e1"/>
<polygon points="445.4,456.0 459.6,471.9 445.4,487.7 431.3,471.9" fill="#c0c0e1"/>
<polygon points="516.0,535.2 530.1,551.1 516.0,567.0 501.9,551.1" fill="#c0c0e1"/>
<polygon points="558.4,582.8 572.5,598.6 558.4,614.5 544.3,598.6" fill="#c0c0e1"/>
<polygon points="572.5,566.9 586.6,582.8 572.5,598.6 558.4,582.8" fill="#c0c0e1"/>
<polygon points="586.6,551.1 600.7,567.0 586.6,582.8 572.5,567.0" fill="#c0c0e1"/>
<polygon points="600.7,535.2 614.8,551.1 600.7,567.0 586.6,551.1" fill="#c0c0e1"/>
<polygon points="374.9,250.0 389.0,265.8 374.9,281.7 360.8,265.8" fill="#c0c0e1"/>
<polygon points="473.7,360.9 487.8,376.8 473.7,392.6 459.6,376.8" fill="#c0c0e1"/>
<polygon points="501.9,392.6 516.0,408.5 501.9,424.3 487.8,408.5" fill="#c0c0e1"/>
<polygon points="530.1,424.3 544.3,440.1 530.1,456.0 516.0,440.1" fill="#c0c0e1"/>
<polygon points="572.5,471.9 586.6,487.7 572.5,503.6 558.4,487.7" fill="#c0c0e1"/>
<polygon points="586.6,487.7 600.7,503.6 586.6,519.4 572.5,503.6" fill="#c0c0e1"/>
<polygon points="600.7,503.5 614.8,519.4 600.7,535.2 586.6,519.4" fill="#c0c0e1"/>
<polygon points="614.8,519.4 628.9,535.2 614.8,551.1 600.7,535.2" fill="#c0c0e1"/>
<polygon points="431.3,281.6 445.4,297.5 431.3,313.4 417.2,297.5" fill="#c0c0e1"/>
<polygon points="516.0,376.8 530.1,392.6 516.0,408.5 501.9,392.6" fill="#c0c0e1"/>
<polygon points="586.6,456.0 600.7,471.9 586.6,487.7 572.5,471.9" fill="#c0c0e1"/>
<polygon points="628.9,503.5 643.1,519.4 628.9,535.2 614.8,519.4" fill="#c0c0e1"/>
<polygon points="643.1,487.7 657.2,503.6 643.1,519.4 628.9,503.6" fill="#c0c0e1"/>
<polygon points="657.2,471.9 671.3,487.7 657.2,503.6 643.1,487.7" fill="#c0c0e1"/>
<polygon points="530.1,297.5 544.3,313.4 530.1,329.2 516.0,313.4" fill="#c0c0e1"/>
<polygon points="558.4,329.2 572.5,345.1 558.4,360.9 544.3,345.1" fill="#c0c0e1"/>
<polygon points="586.6,360.9 600.7,376.8 586.6,392.6 572.5,376.8" fill="#c0c0e1"/>
<polygon points="628.9,408.4 643.1,424.3 628.9,440.2 614.8,424.3" fill="#c0c0e1"/>
<polygon points="643.1,424.3 657.2,440.1 643.1,456.0 628.9,440.1" fill="#c0c0e1"/>
<polygon points="657.2,440.1 671.3,456.0 657.2,471.9 643.1,456.0" fill="#c0c0e1"/>
<polygon points="671.3,456.0 685.4,471.9 671.3,487.7 657.2,471.9" fill="#c0c0e1"/>
<polygon points="572.5,313.3 586.6,329.2 572.5,345.1 558.4,329.2" fill="#c0c0e1"/>
<polygon points="643.1,392.6 657.2,408.5 643.1,424.3 628.9,408.5" fill="#c0c0e1"/>
<polygon points="685.4,440.1 699.5,456.0 685.4,471.9 671.3,456.0" fill="#c0c0e1"/>
<polygon points="586.6,297.5 600.7,313.4 586.6,329.2 572.5,313.4" fill="#c0c0e1"/>
<polygon points="657.2,376.8 671.3,392.6 657.2,408.5 643.1,392.6" fill="#c0c0e1"/>
<polygon points="699.5,424.3 713.6,440.1 699.5,456.0 685.4,440.1" fill="#c0c0e1"/>
<polygon points="713.6,408.4 727.8,424.3 713.6,440.2 699.5,424.3" fill="#c0c0e1"/>
<polygon points="614.8,265.8 628.9,281.7 614.8,297.5 600.7,281.7" fill="#c0c0e1"/>
<polygon points="685.4,345.0 699.5,360.9 685.4,376.8 671.3,360.9" fill="#c0c0e1"/>
<polygon points="699.5,360.9 713.6,376.8 699.5,392.6 685.4,376.8" fill="#c0c0e1"/>
<polygon points="727.8,392.6 741.9,408.5 727.8,424.3 713.6,408.5" fill="#c0c0e1"/>
<polygon points="628.9,250.0 643.1,265.8 628.9,281.7 614.8,265.8" fill="#c0c0e1"/>
<polygon points="699.5,329.2 713.6,345.1 699.5,360.9 685.4,345.1" fill="#c0c0e1"/>
<polygon points="741.9,376.8 756.0,392.6 741.9,408.5 727.8,392.6" fill="#c0c0e1"/>
<polygon points="657.2,250.0 671.3,265.8 657.2,281.7 643.1,265.8" fill="#c0c0e1"/>
<polygon points="671.3,265.8 685.4,281.7 671.3,297.5 657.2,281.7" fill="#c0c0e1"/>
<polygon points="699.5,297.5 713.6,313.4 699.5,329.2 685.4,313.4" fill="#c0c0e1"/>
<polygon points="741.9,345.0 756.0,360.9 741.9,376.8 727.8,360.9" fill="#c0c0e1"/>
<polygon points="756.0,360.9 770.1,376.8 756.0,392.6 741.9,376.8" fill="#c0c0e1"/>
<polygon points="727.8,297.5 741.9,313.4 727.8,329.2 713.6,313.4" fill="#c0c0e1"/>
<polygon points="770.1,345.0 784.2,360.9 770.1,376.8 756.0,360.9" fill="#c0c0e1"/>
<polygon points="741.9,281.6 756.0,297.5 741.9,313.4 727.8,297.5" fill="#c0c0e1"/>
<polygon points="784.2,329.2 798.3,345.1 784.2,360.9 770.1,345.1" fill="#c0c0e1"/>
<polygon points="798.3,313.3 812.4,329.2 798.3,345.1 784.2,329.2" fill="#c0c0e1"/>
<polygon points="770.1,250.0 784.2,265.8 770.1,281.7 756.0,265.8" fill="#c0c0e1"/>
<polygon points="812.4,297.5 826.6,313.4 812.4,329.2 798.3,313.4" fill="#c0c0e1"/>
<polygon points="812.4,265.8 826.6,281.7 812.4,297.5 798.3,281.7" fill="#c0c0e1"/>
<polygon points="826.6,281.6 840.7,297.5 826.6,313.4 812.4,297.5" fill="#c0c0e1"/>
<polygon points="840.7,265.8 854.8,281.7 840.7,297.5 826.6,281.7" fill="#c0c0e1"/>
<polygon points="854.8,250.0 868.9,265.8 854.8,281.7 840.7,265.8" fill="#c0c0e1"/>
</g>
<g stroke="#f6d6d6" stroke-width="0.8">
<polygon points="36.1,250.0 50.2,265.8 36.1,281.7 22.0,265.8" fill="#cd1e2b"/>
<polygon points="50.2,265.8 64.3,281.7 50.2,297.5 36.1,281.7" fill="#cd1e2b"/>
<polygon points="64.3,281.6 78.5,297.5 64.3,313.4 50.2,297.5" fill="#cd1e2b"/>
<polygon points="78.5,297.5 92.6,313.4 78.5,329.2 64.3,313.4" fill="#cd1e2b"/>
<polygon points="92.6,313.3 106.7,329.2 92.6,345.1 78.5,329.2" fill="#cd1e2b"/>
<polygon points="106.7,329.2 120.8,345.1 106.7,360.9 92.6,345.1" fill="#cd1e2b"/>
<polygon points="332.5,582.8 346.6,598.6 332.5,614.5 318.4,598.6" fill="#d97c83"/>
<polygon points="403.1,662.0 417.2,677.9 403.1,693.8 389.0,677.9" fill="#d97c83"/>
<polygon points="64.3,250.0 78.5,265.8 64.3,281.7 50.2,265.8" fill="#cd202d"/>
<polygon points="78.5,265.8 92.6,281.7 78.5,297.5 64.3,281.7" fill="#cd1e2b"/>
<polygon points="92.6,281.6 106.7,297.5 92.6,313.4 78.5,297.5" fill="#cd1e2b"/>
<polygon points="106.7,297.5 120.8,313.4 106.7,329.2 92.6,313.4" fill="#cd1e2b"/>
<polygon points="120.8,313.3 134.9,329.2 120.8,345.1 106.7,329.2" fill="#cd1e2b"/>
<polygon points="304.3,519.4 318.4,535.2 304.3,551.1 290.2,535.2" fill="#e1a1a5"/>
<polygon points="318.4,535.2 332.5,551.1 318.4,567.0 304.3,551.1" fill="#d67078"/>
<polygon points="346.6,566.9 360.8,582.8 346.6,598.6 332.5,582.8" fill="#df999d"/>
<polygon points="417.2,646.2 431.3,662.0 417.2,677.9 403.1,662.0" fill="#df999d"/>
<polygon points="92.6,250.0 106.7,265.8 92.6,281.7 78.5,265.8" fill="#ce2c38"/>
<polygon points="106.7,265.8 120.8,281.7 106.7,297.5 92.6,281.7" fill="#cd1e2b"/>
<polygon points="120.8,281.6 134.9,297.5 120.8,313.4 106.7,297.5" fill="#cd202d"/>
<polygon points="134.9,297.5 149.0,313.4 134.9,329.2 120.8,313.4" fill="#cd202d"/>
<polygon points="163.2,329.2 177.3,345.1 163.2,360.9 149.0,345.1" fill="#e09da1"/>
<polygon points="233.7,408.4 247.8,424.3 233.7,440.2 219.6,424.3" fill="#da848a"/>
<polygon points="247.8,424.3 262.0,440.1 247.8,456.0 233.7,440.1" fill="#da848a"/>
<polygon points="262.0,440.1 276.1,456.0 262.0,471.9 247.8,456.0" fill="#db888e"/>
<polygon points="290.2,471.9 304.3,487.7 290.2,503.6 276.1,487.7" fill="#d97c83"/>
<polygon points="304.3,487.7 318.4,503.6 304.3,519.4 290.2,503.6" fill="#d7747b"/>
<polygon points="318.4,503.5 332.5,519.4 318.4,535.2 304.3,519.4" fill="#d8787f"/>
<polygon points="346.6,535.2 360.8,551.1 346.6,567.0 332.5,551.1" fill="#d7747b"/>
<polygon points="374.9,566.9 389.0,582.8 374.9,598.6 360.8,582.8" fill="#d7747b"/>
<polygon points="389.0,582.8 403.1,598.6 389.0,614.5 374.9,598.6" fill="#de9599"/>
<polygon points="403.1,598.6 417.2,614.5 403.1,630.4 389.0,614.5" fill="#da848a"/>
<polygon points="417.2,614.5 431.3,630.4 417.2,646.2 403.1,630.4" fill="#d7747b"/>
<polygon points="445.4,646.2 459.6,662.0 445.4,677.9 431.3,662.0" fill="#e2a5a9"/>
<polygon points="459.6,662.0 473.7,677.9 459.6,693.8 445.4,677.9" fill="#db888e"/>
<polygon points="120.8,250.0 134.9,265.8 120.8,281.7 106.7,265.8" fill="#cd1e2b"/>
<polygon points="134.9,265.8 149.0,281.7 134.9,297.5 120.8,281.7" fill="#cd1e2b"/>
<polygon points="149.0,281.6 163.2,297.5 149.0,313.4 134.9,297.5" fill="#cd1e2b"/>
<polygon points="163.2,297.5 177.3,313.4 163.2,329.2 149.0,313.4" fill="#cf3843"/>
<polygon points="205.5,345.0 219.6,360.9 205.5,376.8 191.4,360.9" fill="#cd2431"/>
<polygon points="219.6,360.9 233.7,376.8 219.6,392.6 205.5,376.8" fill="#cd2431"/>
<polygon points="233.7,376.8 247.8,392.6 233.7,408.5 219.6,392.6" fill="#cd1e2b"/>
<polygon points="290.2,440.1 304.3,456.0 290.2,471.9 276.1,456.0" fill="#cd1e2b"/>
<polygon points="346.6,503.5 360.8,519.4 346.6,535.2 332.5,519.4" fill="#e4adb0"/>
<polygon points="149.0,250.0 163.2,265.8 149.0,281.7 134.9,265.8" fill="#cd1e2b"/>
<polygon points="163.2,265.8 177.3,281.7 163.2,297.5 149.0,281.7" fill="#cd1e2b"/>
<polygon points="191.4,297.5 205.5,313.4 191.4,329.2 177.3,313.4" fill="#cd1e2b"/>
<polygon points="262.0,376.8 276.1,392.6 262.0,408.5 247.8,392.6" fill="#cd1e2b"/>
<polygon points="318.4,440.1 332.5,456.0 318.4,471.9 304.3,456.0" fill="#cd1e2b"/>
<polygon points="332.5,456.0 346.6,471.9 332.5,487.7 318.4,471.9" fill="#cd1e2b"/>
<polygon points="374.9,503.5 389.0,519.4 374.9,535.2 360.8,519.4" fill="#cd1e2b"/>
<polygon points="389.0,519.4 403.1,535.2 389.0,551.1 374.9,535.2" fill="#e2a5a9"/>
<polygon points="403.1,535.2 417.2,551.1 403.1,567.0 389.0,551.1" fill="#cd1e2b"/>
<polygon points="417.2,551.1 431.3,567.0 417.2,582.8 403.1,567.0" fill="#cd1e2b"/>
<polygon points="445.4,582.8 459.6,598.6 445.4,614.5 431.3,598.6" fill="#cd1e2b"/>
<polygon points="459.6,598.6 473.7,614.5 459.6,630.4 445.4,614.5" fill="#e2a5a9"/>
<polygon points="487.8,630.4 501.9,646.2 487.8,662.1 473.7,646.2" fill="#cd1e2b"/>
<polygon points="177.3,250.0 191.4,265.8 177.3,281.7 163.2,265.8" fill="#cd1e2b"/>
<polygon points="403.1,503.5 417.2,519.4 403.1,535.2 389.0,519.4" fill="#e2a5a9"/>
<polygon points="473.7,582.8 487.8,598.6 473.7,614.5 459.6,598.6" fill="#e2a5a9"/>
<polygon points="417.2,487.7 431.3,503.6 417.2,519.4 403.1,503.6" fill="#e2a5a9"/>
<polygon points="487.8,566.9 501.9,582.8 487.8,598.6 473.7,582.8" fill="#e1a1a5"/>
<polygon points="233.7,250.0 247.8,265.8 233.7,281.7 219.6,265.8" fill="#cd1e2b"/>
<polygon points="247.8,265.8 262.0,281.7 247.8,297.5 233.7,281.7" fill="#cd1e2b"/>
<polygon points="262.0,281.6 276.1,297.5 262.0,313.4 247.8,297.5" fill="#cd1e2b"/>
<polygon points="276.1,297.5 290.2,313.4 276.1,329.2 262.0,313.4" fill="#cd1e2b"/>
<polygon points="290.2,313.3 304.3,329.2 290.2,345.1 276.1,329.2" fill="#cd1e2b"/>
<polygon points="318.4,345.0 332.5,360.9 318.4,376.8 304.3,360.9" fill="#cd2431"/>
<polygon points="332.5,360.9 346.6,376.8 332.5,392.6 318.4,376.8" fill="#cd1e2b"/>
<polygon points="346.6,376.8 360.8,392.6 346.6,408.5 332.5,392.6" fill="#cd1e2b"/>
<polygon points="360.8,392.6 374.9,408.5 360.8,424.3 346.6,408.5" fill="#d66c74"/>
<polygon points="374.9,408.4 389.0,424.3 374.9,440.2 360.8,424.3" fill="#d4646c"/>
<polygon points="403.1,440.1 417.2,456.0 403.1,471.9 389.0,456.0" fill="#cd1e2b"/>
<polygon points="417.2,456.0 431.3,471.9 417.2,487.7 403.1,471.9" fill="#d4646c"/>
<polygon points="431.3,471.9 445.4,487.7 431.3,503.6 417.2,487.7" fill="#cd1e2b"/>
<polygon points="445.4,487.7 459.6,503.6 445.4,519.4 431.3,503.6" fill="#d4646c"/>
<polygon points="473.7,519.4 487.8,535.2 473.7,551.1 459.6,535.2" fill="#cd2431"/>
<polygon points="487.8,535.2 501.9,551.1 487.8,567.0 473.7,551.1" fill="#d56870"/>
<polygon points="501.9,551.1 516.0,567.0 501.9,582.8 487.8,567.0" fill="#cd1e2b"/>
<polygon points="262.0,250.0 276.1,265.8 262.0,281.7 247.8,265.8" fill="#cd1e2b"/>
<polygon points="276.1,265.8 290.2,281.7 276.1,297.5 262.0,281.7" fill="#cd1e2b"/>
<polygon points="290.2,281.6 304.3,297.5 290.2,313.4 276.1,297.5" fill="#cd1e2b"/>
<polygon points="318.4,313.3 332.5,329.2 318.4,345.1 304.3,329.2" fill="#cd1e2b"/>
<polygon points="332.5,329.2 346.6,345.1 332.5,360.9 318.4,345.1" fill="#cd1e2b"/>
<polygon points="346.6,345.0 360.8,360.9 346.6,376.8 332.5,360.9" fill="#cd1e2b"/>
<polygon points="374.9,376.8 389.0,392.6 374.9,408.5 360.8,392.6" fill="#cd1e2b"/>
<polygon points="389.0,392.6 403.1,408.5 389.0,424.3 374.9,408.5" fill="#cd1e2b"/>
<polygon points="403.1,408.4 417.2,424.3 403.1,440.2 389.0,424.3" fill="#cd1e2b"/>
<polygon points="417.2,424.3 431.3,440.1 417.2,456.0 403.1,440.1" fill="#cd1e2b"/>
<polygon points="431.3,440.1 445.4,456.0 431.3,471.9 417.2,456.0" fill="#cd1e2b"/>
<polygon points="459.6,471.9 473.7,487.7 459.6,503.6 445.4,487.7" fill="#cd1e2b"/>
<polygon points="473.7,487.7 487.8,503.6 473.7,519.4 459.6,503.6" fill="#cd1e2b"/>
<polygon points="487.8,503.5 501.9,519.4 487.8,535.2 473.7,519.4" fill="#cd1e2b"/>
<polygon points="501.9,519.4 516.0,535.2 501.9,551.1 487.8,535.2" fill="#cd1e2b"/>
<polygon points="530.1,551.1 544.3,567.0 530.1,582.8 516.0,567.0" fill="#cd1e2b"/>
<polygon points="544.3,566.9 558.4,582.8 544.3,598.6 530.1,582.8" fill="#cd1e2b"/>
<polygon points="290.2,250.0 304.3,265.8 290.2,281.7 276.1,265.8" fill="#cd1e2b"/>
<polygon points="304.3,265.8 318.4,281.7 304.3,297.5 290.2,281.7" fill="#cd1e2b"/>
<polygon points="318.4,281.6 332.5,297.5 318.4,313.4 304.3,297.5" fill="#cd1e2b"/>
<polygon points="332.5,297.5 346.6,313.4 332.5,329.2 318.4,313.4" fill="#cd1e2b"/>
<polygon points="346.6,313.3 360.8,329.2 346.6,345.1 332.5,329.2" fill="#cd1e2b"/>
<polygon points="360.8,329.2 374.9,345.1 360.8,360.9 346.6,345.1" fill="#cd1e2b"/>
<polygon points="374.9,345.0 389.0,360.9 374.9,376.8 360.8,360.9" fill="#cd1e2b"/>
<polygon points="389.0,360.9 403.1,376.8 389.0,392.6 374.9,376.8" fill="#cd1e2b"/>
<polygon points="403.1,376.8 417.2,392.6 403.1,408.5 389.0,392.6" fill="#cd1e2b"/>
<polygon points="417.2,392.6 431.3,408.5 417.2,424.3 403.1,408.5" fill="#cd1e2b"/>
<polygon points="431.3,408.4 445.4,424.3 431.3,440.2 417.2,424.3" fill="#cd1e2b"/>
<polygon points="445.4,424.3 459.6,440.1 445.4,456.0 431.3,440.1" fill="#cd1e2b"/>
<polygon points="459.6,440.1 473.7,456.0 459.6,471.9 445.4,456.0" fill="#cd1e2b"/>
<polygon points="473.7,456.0 487.8,471.9 473.7,487.7 459.6,471.9" fill="#cd1e2b"/>
<polygon points="487.8,471.9 501.9,487.7 487.8,503.6 473.7,487.7" fill="#cd1e2b"/>
<polygon points="501.9,487.7 516.0,503.6 501.9,519.4 487.8,503.6" fill="#cd1e2b"/>
<polygon points="516.0,503.5 530.1,519.4 516.0,535.2 501.9,519.4" fill="#cd1e2b"/>
<polygon points="530.1,519.4 544.3,535.2 530.1,551.1 516.0,535.2" fill="#cd1e2b"/>
<polygon points="544.3,535.2 558.4,551.1 544.3,567.0 530.1,551.1" fill="#cd1e2b"/>
<polygon points="558.4,551.1 572.5,567.0 558.4,582.8 544.3,567.0" fill="#cd1e2b"/>
<polygon points="318.4,250.0 332.5,265.8 318.4,281.7 304.3,265.8" fill="#cd1e2b"/>
<polygon points="332.5,265.8 346.6,281.7 332.5,297.5 318.4,281.7" fill="#cd1e2b"/>
<polygon points="360.8,297.5 374.9,313.4 360.8,329.2 346.6,313.4" fill="#cd1e2b"/>
<polygon points="374.9,313.3 389.0,329.2 374.9,345.1 360.8,329.2" fill="#cd1e2b"/>
<polygon points="389.0,329.2 403.1,345.1 389.0,360.9 374.9,345.1" fill="#cd1e2b"/>
<polygon points="403.1,345.0 417.2,360.9 403.1,376.8 389.0,360.9" fill="#d66c74"/>
<polygon points="417.2,360.9 431.3,376.8 417.2,392.6 403.1,376.8" fill="#d56870"/>
<polygon points="445.4,392.6 459.6,408.5 445.4,424.3 431.3,408.5" fill="#cd1e2b"/>
<polygon points="459.6,408.4 473.7,424.3 459.6,440.2 445.4,424.3" fill="#d56870"/>
<polygon points="473.7,424.3 487.8,440.1 473.7,456.0 459.6,440.1" fill="#ce2c38"/>
<polygon points="487.8,440.1 501.9,456.0 487.8,471.9 473.7,456.0" fill="#d56870"/>
<polygon points="516.0,471.9 530.1,487.7 516.0,503.6 501.9,487.7" fill="#cd2431"/>
<polygon points="530.1,487.7 544.3,503.6 530.1,519.4 516.0,503.6" fill="#d56870"/>
<polygon points="544.3,503.5 558.4,519.4 544.3,535.2 530.1,519.4" fill="#ce2c38"/>
<polygon points="346.6,250.0 360.8,265.8 346.6,281.7 332.5,265.8" fill="#cd1e2b"/>
<polygon points="360.8,265.8 374.9,281.7 360.8,297.5 346.6,281.7" fill="#d1505a"/>
<polygon points="374.9,281.6 389.0,297.5 374.9,313.4 360.8,297.5" fill="#cd1e2b"/>
<polygon points="389.0,297.5 403.1,313.4 389.0,329.2 374.9,313.4" fill="#cd1e2b"/>
<polygon points="403.1,313.3 417.2,329.2 403.1,345.1 389.0,329.2" fill="#cd1e2b"/>
<polygon points="417.2,329.2 431.3,345.1 417.2,360.9 403.1,345.1" fill="#cf404b"/>
<polygon points="431.3,345.0 445.4,360.9 431.3,376.8 417.2,360.9" fill="#cf3c47"/>
<polygon points="459.6,376.8 473.7,392.6 459.6,408.5 445.4,392.6" fill="#cd1e2b"/>
<polygon points="473.7,392.6 487.8,408.5 473.7,424.3 459.6,408.5" fill="#cf3c47"/>
<polygon points="487.8,408.4 501.9,424.3 487.8,440.2 473.7,424.3" fill="#ce2c38"/>
<polygon points="501.9,424.3 516.0,440.1 501.9,456.0 487.8,440.1" fill="#cf3c47"/>
<polygon points="516.0,440.1 530.1,456.0 516.0,471.9 501.9,456.0" fill="#d0444f"/>
<polygon points="530.1,456.0 544.3,471.9 530.1,487.7 516.0,471.9" fill="#cd2431"/>
<polygon points="544.3,471.9 558.4,487.7 544.3,503.6 530.1,487.7" fill="#cf3c47"/>
<polygon points="558.4,487.7 572.5,503.6 558.4,519.4 544.3,503.6" fill="#ce2c38"/>
<polygon points="586.6,519.4 600.7,535.2 586.6,551.1 572.5,535.2" fill="#d1505a"/>
<polygon points="389.0,265.8 403.1,281.7 389.0,297.5 374.9,281.7" fill="#cd1e2b"/>
<polygon points="403.1,281.6 417.2,297.5 403.1,313.4 389.0,297.5" fill="#cd1e2b"/>
<polygon points="417.2,297.5 431.3,313.4 417.2,329.2 403.1,313.4" fill="#cd1e2b"/>
<polygon points="431.3,313.3 445.4,329.2 431.3,345.1 417.2,329.2" fill="#cd1e2b"/>
<polygon points="445.4,329.2 459.6,345.1 445.4,360.9 431.3,345.1" fill="#cd1e2b"/>
<polygon points="459.6,345.0 473.7,360.9 459.6,376.8 445.4,360.9" fill="#cd1e2b"/>
<polygon points="487.8,376.8 501.9,392.6 487.8,408.5 473.7,392.6" fill="#cd1e2b"/>
<polygon points="516.0,408.4 530.1,424.3 516.0,440.2 501.9,424.3" fill="#cd1e2b"/>
<polygon points="544.3,440.1 558.4,456.0 544.3,471.9 530.1,456.0" fill="#cd1e2b"/>
<polygon points="558.4,456.0 572.5,471.9 558.4,487.7 544.3,471.9" fill="#cd1e2b"/>
<polygon points="403.1,250.0 417.2,265.8 403.1,281.7 389.0,265.8" fill="#cd1e2b"/>
<polygon points="417.2,265.8 431.3,281.7 417.2,297.5 403.1,281.7" fill="#cd1e2b"/>
<polygon points="445.4,297.5 459.6,313.4 445.4,329.2 431.3,313.4" fill="#cd1e2b"/>
<polygon points="459.6,313.3 473.7,329.2 459.6,345.1 445.4,329.2" fill="#cd1e2b"/>
<polygon points="473.7,329.2 487.8,345.1 473.7,360.9 459.6,345.1" fill="#cd1e2b"/>
<polygon points="487.8,345.0 501.9,360.9 487.8,376.8 473.7,360.9" fill="#cd1e2b"/>
<polygon points="501.9,360.9 516.0,376.8 501.9,392.6 487.8,376.8" fill="#cd1e2b"/>
<polygon points="530.1,392.6 544.3,408.5 530.1,424.3 516.0,408.5" fill="#cd1e2b"/>
<polygon points="544.3,408.4 558.4,424.3 544.3,440.2 530.1,424.3" fill="#cd1e2b"/>
<polygon points="558.4,424.3 572.5,440.1 558.4,456.0 544.3,440.1" fill="#cd1e2b"/>
<polygon points="572.5,440.1 586.6,456.0 572.5,471.9 558.4,456.0" fill="#cd1e2b"/>
<polygon points="600.7,471.9 614.8,487.7 600.7,503.6 586.6,487.7" fill="#cd1e2b"/>
<polygon points="614.8,487.7 628.9,503.6 614.8,519.4 600.7,503.6" fill="#cd1e2b"/>
<polygon points="431.3,250.0 445.4,265.8 431.3,281.7 417.2,265.8" fill="#cd1e2b"/>
<polygon points="445.4,265.8 459.6,281.7 445.4,297.5 431.3,281.7" fill="#cd1e2b"/>
<polygon points="459.6,281.6 473.7,297.5 459.6,313.4 445.4,297.5" fill="#cd1e2b"/>
<polygon points="473.7,297.5 487.8,313.4 473.7,329.2 459.6,313.4" fill="#cd1e2b"/>
<polygon points="487.8,313.3 501.9,329.2 487.8,345.1 473.7,329.2" fill="#cd1e2b"/>
<polygon points="501.9,329.2 516.0,345.1 501.9,360.9 487.8,345.1" fill="#cd1e2b"/>
<polygon points="516.0,345.0 530.1,360.9 516.0,376.8 501.9,360.9" fill="#cd1e2b"/>
<polygon points="530.1,360.9 544.3,376.8 530.1,392.6 516.0,376.8" fill="#d1505a"/>
<polygon points="544.3,376.8 558.4,392.6 544.3,408.5 530.1,392.6" fill="#cd1e2b"/>
<polygon points="558.4,392.6 572.5,408.5 558.4,424.3 544.3,408.5" fill="#cd1e2b"/>
<polygon points="572.5,408.4 586.6,424.3 572.5,440.2 558.4,424.3" fill="#cd1e2b"/>
<polygon points="586.6,424.3 600.7,440.1 586.6,456.0 572.5,440.1" fill="#cd1e2b"/>
<polygon points="600.7,440.1 614.8,456.0 600.7,471.9 586.6,456.0" fill="#d1505a"/>
<polygon points="614.8,456.0 628.9,471.9 614.8,487.7 600.7,471.9" fill="#cd1e2b"/>
<polygon points="628.9,471.9 643.1,487.7 628.9,503.6 614.8,487.7" fill="#cd1e2b"/>
<polygon points="459.6,250.0 473.7,265.8 459.6,281.7 445.4,265.8" fill="#cd1e2b"/>
<polygon points="473.7,265.8 487.8,281.7 473.7,297.5 459.6,281.7" fill="#cd1e2b"/>
<polygon points="487.8,281.6 501.9,297.5 487.8,313.4 473.7,297.5" fill="#cd1e2b"/>
<polygon points="501.9,297.5 516.0,313.4 501.9,329.2 487.8,313.4" fill="#cd1e2b"/>
<polygon points="516.0,313.3 530.1,329.2 516.0,345.1 501.9,329.2" fill="#cd2835"/>
<polygon points="530.1,329.2 544.3,345.1 530.1,360.9 516.0,345.1" fill="#cd1e2b"/>
<polygon points="544.3,345.0 558.4,360.9 544.3,376.8 530.1,360.9" fill="#cd1e2b"/>
<polygon points="558.4,360.9 572.5,376.8 558.4,392.6 544.3,376.8" fill="#cd1e2b"/>
<polygon points="572.5,376.8 586.6,392.6 572.5,408.5 558.4,392.6" fill="#cd1e2b"/>
<polygon points="586.6,392.6 600.7,408.5 586.6,424.3 572.5,408.5" fill="#cd1e2b"/>
<polygon points="600.7,408.4 614.8,424.3 600.7,440.2 586.6,424.3" fill="#cd1e2b"/>
<polygon points="614.8,424.3 628.9,440.1 614.8,456.0 600.7,440.1" fill="#cd1e2b"/>
<polygon points="628.9,440.1 643.1,456.0 628.9,471.9 614.8,456.0" fill="#cd1e2b"/>
<polygon points="643.1,456.0 657.2,471.9 643.1,487.7 628.9,471.9" fill="#cd1e2b"/>
<polygon points="487.8,250.0 501.9,265.8 487.8,281.7 473.7,265.8" fill="#cd1e2b"/>
<polygon points="501.9,265.8 516.0,281.7 501.9,297.5 487.8,281.7" fill="#cd1e2b"/>
<polygon points="516.0,281.6 530.1,297.5 516.0,313.4 501.9,297.5" fill="#cd1e2b"/>
<polygon points="544.3,313.3 558.4,329.2 544.3,345.1 530.1,329.2" fill="#cd1e2b"/>
<polygon points="572.5,345.0 586.6,360.9 572.5,376.8 558.4,360.9" fill="#cd1e2b"/>
<polygon points="600.7,376.8 614.8,392.6 600.7,408.5 586.6,392.6" fill="#cd1e2b"/>
<polygon points="614.8,392.6 628.9,408.5 614.8,424.3 600.7,408.5" fill="#cd1e2b"/>
<polygon points="516.0,250.0 530.1,265.8 516.0,281.7 501.9,265.8" fill="#cd1e2b"/>
<polygon points="530.1,265.8 544.3,281.7 530.1,297.5 516.0,281.7" fill="#cd1e2b"/>
<polygon points="544.3,281.6 558.4,297.5 544.3,313.4 530.1,297.5" fill="#cd1e2b"/>
<polygon points="558.4,297.5 572.5,313.4 558.4,329.2 544.3,313.4" fill="#cd1e2b"/>
<polygon points="586.6,329.2 600.7,345.1 586.6,360.9 572.5,345.1" fill="#cd1e2b"/>
<polygon points="600.7,345.0 614.8,360.9 600.7,376.8 586.6,360.9" fill="#cd1e2b"/>
<polygon points="614.8,360.9 628.9,376.8 614.8,392.6 600.7,376.8" fill="#cd1e2b"/>
<polygon points="628.9,376.8 643.1,392.6 628.9,408.5 614.8,392.6" fill="#cd1e2b"/>
<polygon points="657.2,408.4 671.3,424.3 657.2,440.2 643.1,424.3" fill="#cd1e2b"/>
<polygon points="671.3,424.3 685.4,440.1 671.3,456.0 657.2,440.1" fill="#cd1e2b"/>
<polygon points="544.3,250.0 558.4,265.8 544.3,281.7 530.1,265.8" fill="#cd1e2b"/>
<polygon points="558.4,265.8 572.5,281.7 558.4,297.5 544.3,281.7" fill="#cd1e2b"/>
<polygon points="572.5,281.6 586.6,297.5 572.5,313.4 558.4,297.5" fill="#cd1e2b"/>
<polygon points="600.7,313.3 614.8,329.2 600.7,345.1 586.6,329.2" fill="#cd1e2b"/>
<polygon points="614.8,329.2 628.9,345.1 614.8,360.9 600.7,345.1" fill="#cd1e2b"/>
<polygon points="628.9,345.0 643.1,360.9 628.9,376.8 614.8,360.9" fill="#cd1e2b"/>
<polygon points="643.1,360.9 657.2,376.8 643.1,392.6 628.9,376.8" fill="#cd1e2b"/>
<polygon points="671.3,392.6 685.4,408.5 671.3,424.3 657.2,408.5" fill="#cd1e2b"/>
<polygon points="685.4,408.4 699.5,424.3 685.4,440.2 671.3,424.3" fill="#cd1e2b"/>
<polygon points="572.5,250.0 586.6,265.8 572.5,281.7 558.4,265.8" fill="#cd1e2b"/>
<polygon points="586.6,265.8 600.7,281.7 586.6,297.5 572.5,281.7" fill="#cd1e2b"/>
<polygon points="600.7,281.6 614.8,297.5 600.7,313.4 586.6,297.5" fill="#cd1e2b"/>
<polygon points="614.8,297.5 628.9,313.4 614.8,329.2 600.7,313.4" fill="#cd1e2b"/>
<polygon points="628.9,313.3 643.1,329.2 628.9,345.1 614.8,329.2" fill="#cd1e2b"/>
<polygon points="643.1,329.2 657.2,345.1 643.1,360.9 628.9,345.1" fill="#cd1e2b"/>
<polygon points="657.2,345.0 671.3,360.9 657.2,376.8 643.1,360.9" fill="#cd1e2b"/>
<polygon points="671.3,360.9 685.4,376.8 671.3,392.6 657.2,376.8" fill="#cd1e2b"/>
<polygon points="685.4,376.8 699.5,392.6 685.4,408.5 671.3,392.6" fill="#cd1e2b"/>
<polygon points="699.5,392.6 713.6,408.5 699.5,424.3 685.4,408.5" fill="#cd1e2b"/>
<polygon points="600.7,250.0 614.8,265.8 600.7,281.7 586.6,265.8" fill="#cd1e2b"/>
<polygon points="628.9,281.6 643.1,297.5 628.9,313.4 614.8,297.5" fill="#cd1e2b"/>
<polygon points="643.1,297.5 657.2,313.4 643.1,329.2 628.9,313.4" fill="#cd1e2b"/>
<polygon points="657.2,313.3 671.3,329.2 657.2,345.1 643.1,329.2" fill="#cd1e2b"/>
<polygon points="671.3,329.2 685.4,345.1 671.3,360.9 657.2,345.1" fill="#cd1e2b"/>
<polygon points="713.6,376.8 727.8,392.6 713.6,408.5 699.5,392.6" fill="#cd1e2b"/>
<polygon points="643.1,265.8 657.2,281.7 643.1,297.5 628.9,281.7" fill="#cd1e2b"/>
<polygon points="657.2,281.6 671.3,297.5 657.2,313.4 643.1,297.5" fill="#cd1e2b"/>
<polygon points="671.3,297.5 685.4,313.4 671.3,329.2 657.2,313.4" fill="#cd1e2b"/>
<polygon points="685.4,313.3 699.5,329.2 685.4,345.1 671.3,329.2" fill="#cd1e2b"/>
<polygon points="713.6,345.0 727.8,360.9 713.6,376.8 699.5,360.9" fill="#cd1e2b"/>
<polygon points="727.8,360.9 741.9,376.8 727.8,392.6 713.6,376.8" fill="#cd1e2b"/>
<polygon points="713.6,313.3 727.8,329.2 713.6,345.1 699.5,329.2" fill="#cd1e2b"/>
<polygon points="685.4,250.0 699.5,265.8 685.4,281.7 671.3,265.8" fill="#cd1e2b"/>
<polygon points="699.5,265.8 713.6,281.7 699.5,297.5 685.4,281.7" fill="#cd1e2b"/>
<polygon points="713.6,281.6 727.8,297.5 713.6,313.4 699.5,297.5" fill="#cd1e2b"/>
<polygon points="741.9,313.3 756.0,329.2 741.9,345.1 727.8,329.2" fill="#cd1e2b"/>
<polygon points="756.0,329.2 770.1,345.1 756.0,360.9 741.9,345.1" fill="#cd1e2b"/>
<polygon points="713.6,250.0 727.8,265.8 713.6,281.7 699.5,265.8" fill="#cd1e2b"/>
<polygon points="727.8,265.8 741.9,281.7 727.8,297.5 713.6,281.7" fill="#cd1e2b"/>
<polygon points="756.0,297.5 770.1,313.4 756.0,329.2 741.9,313.4" fill="#cd1e2b"/>
<polygon points="770.1,313.3 784.2,329.2 770.1,345.1 756.0,329.2" fill="#cd1e2b"/>
<polygon points="741.9,250.0 756.0,265.8 741.9,281.7 727.8,265.8" fill="#cd1e2b"/>
<polygon points="770.1,281.6 784.2,297.5 770.1,313.4 756.0,297.5" fill="#cd1e2b"/>
<polygon points="784.2,297.5 798.3,313.4 784.2,329.2 770.1,313.4" fill="#cd1e2b"/>
<polygon points="784.2,265.8 798.3,281.7 784.2,297.5 770.1,281.7" fill="#cd1e2b"/>
<polygon points="798.3,281.6 812.4,297.5 798.3,313.4 784.2,297.5" fill="#cd1e2b"/>
<polygon points="826.6,250.0 840.7,265.8 826.6,281.7 812.4,265.8" fill="#cd1e2b"/>
</g>
<text transform="translate(120.8,363.8) scale(.9,1)" class="n" fill="#7d7d7d">8</text>
<text transform="translate(134.9,379.6) scale(.9,1)" class="n" fill="#7d7d7d">34</text>
<text transform="translate(149.0,395.5) scale(.9,1)" class="n" fill="#7d7d7d">27</text>
<text transform="translate(163.2,411.4) scale(.9,1)" class="n" fill="#7d7d7d">8</text>
<text transform="translate(177.3,427.2) scale(.9,1)" class="n" fill="#7d7d7d">11</text>
<text transform="translate(191.4,443.0) scale(.9,1)" class="n" fill="#1a1a1a">54</text>
<text transform="translate(205.5,458.9) scale(.9,1)" class="n" fill="#7d7d7d">31</text>
<text transform="translate(219.6,474.8) scale(.9,1)" class="n" fill="#7d7d7d">35</text>
<text transform="translate(233.7,490.6) scale(.9,1)" class="n" fill="#7d7d7d">35</text>
<text transform="translate(247.8,506.4) scale(.9,1)" class="n" fill="#1a1a1a">51</text>
<text transform="translate(262.0,522.3) scale(.9,1)" class="n" fill="#7d7d7d">18</text>
<text transform="translate(276.1,538.1) scale(.9,1)" class="n" fill="#7d7d7d">25</text>
<text transform="translate(290.2,554.0) scale(.9,1)" class="n" fill="#7d7d7d">49</text>
<text transform="translate(304.3,569.9) scale(.9,1)" class="n" fill="#1a1a1a">76</text>
<text transform="translate(318.4,585.7) scale(.9,1)" class="n" fill="#7d7d7d">25</text>
<text transform="translate(332.5,601.5) scale(.9,1)" class="n" fill="#1a1a1a">72</text>
<text transform="translate(346.6,617.4) scale(.9,1)" class="n" fill="#7d7d7d">25</text>
<text transform="translate(360.8,633.2) scale(.9,1)" class="n" fill="#7d7d7d">32</text>
<text transform="translate(374.9,649.1) scale(.9,1)" class="n" fill="#7d7d7d">35</text>
<text transform="translate(389.0,664.9) scale(.9,1)" class="n" fill="#7d7d7d">24</text>
<text transform="translate(403.1,680.8) scale(.9,1)" class="n" fill="#1a1a1a">72</text>
<text transform="translate(417.2,696.6) scale(.9,1)" class="n" fill="#7d7d7d">27</text>
<text transform="translate(431.3,712.5) scale(.9,1)" class="n" fill="#7d7d7d">28</text>
<text transform="translate(64.3,268.7) scale(.9,1)" class="n" fill="#1a1a1a">95</text>
<text transform="translate(134.9,347.9) scale(.9,1)" class="n" fill="#7d7d7d">9</text>
<text transform="translate(149.0,363.8) scale(.9,1)" class="n" fill="#7d7d7d">38</text>
<text transform="translate(163.2,379.6) scale(.9,1)" class="n" fill="#7d7d7d">27</text>
<text transform="translate(177.3,395.5) scale(.9,1)" class="n" fill="#7d7d7d">10</text>
<text transform="translate(191.4,411.4) scale(.9,1)" class="n" fill="#7d7d7d">12</text>
<text transform="translate(205.5,427.2) scale(.9,1)" class="n" fill="#1a1a1a">66</text>
<text transform="translate(219.6,443.0) scale(.9,1)" class="n" fill="#7d7d7d">34</text>
<text transform="translate(233.7,458.9) scale(.9,1)" class="n" fill="#1a1a1a">50</text>
<text transform="translate(247.8,474.8) scale(.9,1)" class="n" fill="#7d7d7d">49</text>
<text transform="translate(262.0,490.6) scale(.9,1)" class="n" fill="#1a1a1a">65</text>
<text transform="translate(276.1,506.4) scale(.9,1)" class="n" fill="#7d7d7d">43</text>
<text transform="translate(290.2,522.3) scale(.9,1)" class="n" fill="#7d7d7d">46</text>
<text transform="translate(304.3,538.1) scale(.9,1)" class="n" fill="#1a1a1a">63</text>
<text transform="translate(318.4,554.0) scale(.9,1)" class="n" fill="#1a1a1a">75</text>
<text transform="translate(332.5,569.9) scale(.9,1)" class="n" fill="#7d7d7d">45</text>
<text transform="translate(346.6,585.7) scale(.9,1)" class="n" fill="#1a1a1a">65</text>
<text transform="translate(360.8,601.5) scale(.9,1)" class="n" fill="#7d7d7d">46</text>
<text transform="translate(374.9,617.4) scale(.9,1)" class="n" fill="#7d7d7d">47</text>
<text transform="translate(389.0,633.2) scale(.9,1)" class="n" fill="#7d7d7d">46</text>
<text transform="translate(403.1,649.1) scale(.9,1)" class="n" fill="#7d7d7d">45</text>
<text transform="translate(417.2,664.9) scale(.9,1)" class="n" fill="#1a1a1a">65</text>
<text transform="translate(431.3,680.8) scale(.9,1)" class="n" fill="#7d7d7d">29</text>
<text transform="translate(445.4,696.6) scale(.9,1)" class="n" fill="#7d7d7d">31</text>
<text transform="translate(92.6,268.7) scale(.9,1)" class="n" fill="#1a1a1a">92</text>
<text transform="translate(120.8,300.4) scale(.9,1)" class="n" fill="#1a1a1a">95</text>
<text transform="translate(134.9,316.2) scale(.9,1)" class="n" fill="#1a1a1a">95</text>
<text transform="translate(149.0,332.1) scale(.9,1)" class="n" fill="#1a1a1a">57</text>
<text transform="translate(163.2,347.9) scale(.9,1)" class="n" fill="#1a1a1a">64</text>
<text transform="translate(177.3,363.8) scale(.9,1)" class="n" fill="#1a1a1a">70</text>
<text transform="translate(191.4,379.6) scale(.9,1)" class="n" fill="#1a1a1a">54</text>
<text transform="translate(205.5,395.5) scale(.9,1)" class="n" fill="#1a1a1a">53</text>
<text transform="translate(219.6,411.4) scale(.9,1)" class="n" fill="#7d7d7d">28</text>
<text transform="translate(233.7,427.2) scale(.9,1)" class="n" fill="#1a1a1a">70</text>
<text transform="translate(247.8,443.0) scale(.9,1)" class="n" fill="#1a1a1a">70</text>
<text transform="translate(262.0,458.9) scale(.9,1)" class="n" fill="#1a1a1a">69</text>
<text transform="translate(276.1,474.8) scale(.9,1)" class="n" fill="#7d7d7d">25</text>
<text transform="translate(290.2,490.6) scale(.9,1)" class="n" fill="#1a1a1a">72</text>
<text transform="translate(304.3,506.4) scale(.9,1)" class="n" fill="#1a1a1a">74</text>
<text transform="translate(318.4,522.3) scale(.9,1)" class="n" fill="#1a1a1a">73</text>
<text transform="translate(332.5,538.1) scale(.9,1)" class="n" fill="#1a1a1a">68</text>
<text transform="translate(346.6,554.0) scale(.9,1)" class="n" fill="#1a1a1a">74</text>
<text transform="translate(374.9,585.7) scale(.9,1)" class="n" fill="#1a1a1a">74</text>
<text transform="translate(389.0,601.5) scale(.9,1)" class="n" fill="#1a1a1a">66</text>
<text transform="translate(403.1,617.4) scale(.9,1)" class="n" fill="#1a1a1a">70</text>
<text transform="translate(417.2,633.2) scale(.9,1)" class="n" fill="#1a1a1a">74</text>
<text transform="translate(445.4,664.9) scale(.9,1)" class="n" fill="#1a1a1a">62</text>
<text transform="translate(459.6,680.8) scale(.9,1)" class="n" fill="#1a1a1a">69</text>
<text transform="translate(163.2,316.2) scale(.9,1)" class="n" fill="#1a1a1a">89</text>
<text transform="translate(177.3,332.1) scale(.9,1)" class="n" fill="#7d7d7d">4</text>
<text transform="translate(191.4,347.9) scale(.9,1)" class="n" fill="#7d7d7d">39</text>
<text transform="translate(205.5,363.8) scale(.9,1)" class="n" fill="#1a1a1a">94</text>
<text transform="translate(219.6,379.6) scale(.9,1)" class="n" fill="#1a1a1a">94</text>
<text transform="translate(247.8,411.4) scale(.9,1)" class="n" fill="#7d7d7d">7</text>
<text transform="translate(262.0,427.2) scale(.9,1)" class="n" fill="#1a1a1a">50</text>
<text transform="translate(276.1,443.0) scale(.9,1)" class="n" fill="#7d7d7d">45</text>
<text transform="translate(304.3,474.8) scale(.9,1)" class="n" fill="#7d7d7d">13</text>
<text transform="translate(318.4,490.6) scale(.9,1)" class="n" fill="#7d7d7d">17</text>
<text transform="translate(332.5,506.4) scale(.9,1)" class="n" fill="#7d7d7d">27</text>
<text transform="translate(346.6,522.3) scale(.9,1)" class="n" fill="#1a1a1a">60</text>
<text transform="translate(360.8,538.1) scale(.9,1)" class="n" fill="#7d7d7d">16</text>
<text transform="translate(374.9,554.0) scale(.9,1)" class="n" fill="#1a1a1a">64</text>
<text transform="translate(389.0,569.9) scale(.9,1)" class="n" fill="#7d7d7d">17</text>
<text transform="translate(403.1,585.7) scale(.9,1)" class="n" fill="#7d7d7d">20</text>
<text transform="translate(417.2,601.5) scale(.9,1)" class="n" fill="#7d7d7d">47</text>
<text transform="translate(431.3,617.4) scale(.9,1)" class="n" fill="#7d7d7d">17</text>
<text transform="translate(445.4,633.2) scale(.9,1)" class="n" fill="#1a1a1a">64</text>
<text transform="translate(459.6,649.1) scale(.9,1)" class="n" fill="#7d7d7d">13</text>
<text transform="translate(473.7,664.9) scale(.9,1)" class="n" fill="#7d7d7d">4</text>
<text transform="translate(177.3,300.4) scale(.9,1)" class="n" fill="#7d7d7d">37</text>
<text transform="translate(205.5,332.1) scale(.9,1)" class="n" fill="#7d7d7d">18</text>
<text transform="translate(219.6,347.9) scale(.9,1)" class="n" fill="#7d7d7d">32</text>
<text transform="translate(233.7,363.8) scale(.9,1)" class="n" fill="#7d7d7d">33</text>
<text transform="translate(276.1,411.4) scale(.9,1)" class="n" fill="#7d7d7d">8</text>
<text transform="translate(290.2,427.2) scale(.9,1)" class="n" fill="#7d7d7d">9</text>
<text transform="translate(346.6,490.6) scale(.9,1)" class="n" fill="#7d7d7d">26</text>
<text transform="translate(360.8,506.4) scale(.9,1)" class="n" fill="#7d7d7d">42</text>
<text transform="translate(389.0,538.1) scale(.9,1)" class="n" fill="#1a1a1a">62</text>
<text transform="translate(431.3,585.7) scale(.9,1)" class="n" fill="#7d7d7d">13</text>
<text transform="translate(459.6,617.4) scale(.9,1)" class="n" fill="#1a1a1a">62</text>
<text transform="translate(191.4,284.6) scale(.9,1)" class="n" fill="#7d7d7d">4</text>
<text transform="translate(205.5,300.4) scale(.9,1)" class="n" fill="#7d7d7d">34</text>
<text transform="translate(219.6,316.2) scale(.9,1)" class="n" fill="#7d7d7d">19</text>
<text transform="translate(233.7,332.1) scale(.9,1)" class="n" fill="#7d7d7d">5</text>
<text transform="translate(247.8,347.9) scale(.9,1)" class="n" fill="#7d7d7d">7</text>
<text transform="translate(262.0,363.8) scale(.9,1)" class="n" fill="#1a1a1a">70</text>
<text transform="translate(276.1,379.6) scale(.9,1)" class="n" fill="#7d7d7d">30</text>
<text transform="translate(290.2,395.5) scale(.9,1)" class="n" fill="#7d7d7d">43</text>
<text transform="translate(304.3,411.4) scale(.9,1)" class="n" fill="#7d7d7d">41</text>
<text transform="translate(318.4,427.2) scale(.9,1)" class="n" fill="#1a1a1a">68</text>
<text transform="translate(332.5,443.0) scale(.9,1)" class="n" fill="#7d7d7d">41</text>
<text transform="translate(346.6,458.9) scale(.9,1)" class="n" fill="#7d7d7d">44</text>
<text transform="translate(360.8,474.8) scale(.9,1)" class="n" fill="#1a1a1a">59</text>
<text transform="translate(374.9,490.6) scale(.9,1)" class="n" fill="#1a1a1a">50</text>
<text transform="translate(389.0,506.4) scale(.9,1)" class="n" fill="#7d7d7d">43</text>
<text transform="translate(403.1,522.3) scale(.9,1)" class="n" fill="#1a1a1a">62</text>
<text transform="translate(417.2,538.1) scale(.9,1)" class="n" fill="#7d7d7d">44</text>
<text transform="translate(431.3,554.0) scale(.9,1)" class="n" fill="#7d7d7d">44</text>
<text transform="translate(445.4,569.9) scale(.9,1)" class="n" fill="#7d7d7d">38</text>
<text transform="translate(459.6,585.7) scale(.9,1)" class="n" fill="#7d7d7d">43</text>
<text transform="translate(473.7,601.5) scale(.9,1)" class="n" fill="#1a1a1a">62</text>
<text transform="translate(487.8,617.4) scale(.9,1)" class="n" fill="#7d7d7d">22</text>
<text transform="translate(501.9,633.2) scale(.9,1)" class="n" fill="#7d7d7d">27</text>
<text transform="translate(205.5,268.7) scale(.9,1)" class="n" fill="#7d7d7d">3</text>
<text transform="translate(219.6,284.6) scale(.9,1)" class="n" fill="#7d7d7d">38</text>
<text transform="translate(233.7,300.4) scale(.9,1)" class="n" fill="#7d7d7d">22</text>
<text transform="translate(247.8,316.2) scale(.9,1)" class="n" fill="#7d7d7d">4</text>
<text transform="translate(262.0,332.1) scale(.9,1)" class="n" fill="#7d7d7d">6</text>
<text transform="translate(276.1,347.9) scale(.9,1)" class="n" fill="#1a1a1a">71</text>
<text transform="translate(290.2,363.8) scale(.9,1)" class="n" fill="#7d7d7d">34</text>
<text transform="translate(304.3,379.6) scale(.9,1)" class="n" fill="#7d7d7d">44</text>
<text transform="translate(318.4,395.5) scale(.9,1)" class="n" fill="#7d7d7d">42</text>
<text transform="translate(332.5,411.4) scale(.9,1)" class="n" fill="#1a1a1a">70</text>
<text transform="translate(346.6,427.2) scale(.9,1)" class="n" fill="#7d7d7d">42</text>
<text transform="translate(360.8,443.0) scale(.9,1)" class="n" fill="#7d7d7d">45</text>
<text transform="translate(374.9,458.9) scale(.9,1)" class="n" fill="#1a1a1a">59</text>
<text transform="translate(389.0,474.8) scale(.9,1)" class="n" fill="#1a1a1a">52</text>
<text transform="translate(403.1,490.6) scale(.9,1)" class="n" fill="#7d7d7d">44</text>
<text transform="translate(417.2,506.4) scale(.9,1)" class="n" fill="#1a1a1a">62</text>
<text transform="translate(431.3,522.3) scale(.9,1)" class="n" fill="#7d7d7d">45</text>
<text transform="translate(445.4,538.1) scale(.9,1)" class="n" fill="#7d7d7d">46</text>
<text transform="translate(459.6,554.0) scale(.9,1)" class="n" fill="#7d7d7d">39</text>
<text transform="translate(473.7,569.9) scale(.9,1)" class="n" fill="#7d7d7d">44</text>
<text transform="translate(487.8,585.7) scale(.9,1)" class="n" fill="#1a1a1a">63</text>
<text transform="translate(501.9,601.5) scale(.9,1)" class="n" fill="#7d7d7d">30</text>
<text transform="translate(516.0,617.4) scale(.9,1)" class="n" fill="#7d7d7d">30</text>
<text transform="translate(304.3,347.9) scale(.9,1)" class="n" fill="#1a1a1a">67</text>
<text transform="translate(318.4,363.8) scale(.9,1)" class="n" fill="#1a1a1a">94</text>
<text transform="translate(360.8,411.4) scale(.9,1)" class="n" fill="#1a1a1a">76</text>
<text transform="translate(374.9,427.2) scale(.9,1)" class="n" fill="#1a1a1a">78</text>
<text transform="translate(389.0,443.0) scale(.9,1)" class="n" fill="#7d7d7d">9</text>
<text transform="translate(417.2,474.8) scale(.9,1)" class="n" fill="#1a1a1a">78</text>
<text transform="translate(445.4,506.4) scale(.9,1)" class="n" fill="#1a1a1a">78</text>
<text transform="translate(459.6,522.3) scale(.9,1)" class="n" fill="#1a1a1a">74</text>
<text transform="translate(473.7,538.1) scale(.9,1)" class="n" fill="#1a1a1a">94</text>
<text transform="translate(487.8,554.0) scale(.9,1)" class="n" fill="#1a1a1a">77</text>
<text transform="translate(516.0,585.7) scale(.9,1)" class="n" fill="#7d7d7d">17</text>
<text transform="translate(530.1,601.5) scale(.9,1)" class="n" fill="#1a1a1a">68</text>
<text transform="translate(346.6,300.4) scale(.9,1)" class="n" fill="#1a1a1a">67</text>
<text transform="translate(403.1,363.8) scale(.9,1)" class="n" fill="#1a1a1a">76</text>
<text transform="translate(417.2,379.6) scale(.9,1)" class="n" fill="#1a1a1a">77</text>
<text transform="translate(431.3,395.5) scale(.9,1)" class="n" fill="#7d7d7d">8</text>
<text transform="translate(459.6,427.2) scale(.9,1)" class="n" fill="#1a1a1a">77</text>
<text transform="translate(473.7,443.0) scale(.9,1)" class="n" fill="#1a1a1a">92</text>
<text transform="translate(487.8,458.9) scale(.9,1)" class="n" fill="#1a1a1a">77</text>
<text transform="translate(501.9,474.8) scale(.9,1)" class="n" fill="#1a1a1a">73</text>
<text transform="translate(516.0,490.6) scale(.9,1)" class="n" fill="#1a1a1a">94</text>
<text transform="translate(530.1,506.4) scale(.9,1)" class="n" fill="#1a1a1a">77</text>
<text transform="translate(544.3,522.3) scale(.9,1)" class="n" fill="#1a1a1a">92</text>
<text transform="translate(558.4,538.1) scale(.9,1)" class="n" fill="#7d7d7d">17</text>
<text transform="translate(572.5,554.0) scale(.9,1)" class="n" fill="#1a1a1a">68</text>
<text transform="translate(360.8,284.6) scale(.9,1)" class="n" fill="#1a1a1a">83</text>
<text transform="translate(417.2,347.9) scale(.9,1)" class="n" fill="#1a1a1a">87</text>
<text transform="translate(431.3,363.8) scale(.9,1)" class="n" fill="#1a1a1a">88</text>
<text transform="translate(445.4,379.6) scale(.9,1)" class="n" fill="#7d7d7d">8</text>
<text transform="translate(473.7,411.4) scale(.9,1)" class="n" fill="#1a1a1a">88</text>
<text transform="translate(487.8,427.2) scale(.9,1)" class="n" fill="#1a1a1a">92</text>
<text transform="translate(501.9,443.0) scale(.9,1)" class="n" fill="#1a1a1a">88</text>
<text transform="translate(516.0,458.9) scale(.9,1)" class="n" fill="#1a1a1a">86</text>
<text transform="translate(530.1,474.8) scale(.9,1)" class="n" fill="#1a1a1a">94</text>
<text transform="translate(544.3,490.6) scale(.9,1)" class="n" fill="#1a1a1a">88</text>
<text transform="translate(558.4,506.4) scale(.9,1)" class="n" fill="#1a1a1a">92</text>
<text transform="translate(572.5,522.3) scale(.9,1)" class="n" fill="#1a1a1a">56</text>
<text transform="translate(586.6,538.1) scale(.9,1)" class="n" fill="#1a1a1a">83</text>
<text transform="translate(431.3,268.7) scale(.9,1)" class="n" fill="#1a1a1a">97</text>
<text transform="translate(487.8,332.1) scale(.9,1)" class="n" fill="#1a1a1a">96</text>
<text transform="translate(530.1,379.6) scale(.9,1)" class="n" fill="#1a1a1a">83</text>
<text transform="translate(572.5,427.2) scale(.9,1)" class="n" fill="#1a1a1a">97</text>
<text transform="translate(600.7,458.9) scale(.9,1)" class="n" fill="#1a1a1a">83</text>
<text transform="translate(516.0,332.1) scale(.9,1)" class="n" fill="#1a1a1a">93</text>
<text transform="translate(586.6,411.4) scale(.9,1)" class="n" fill="#1a1a1a">97</text>
<text transform="translate(643.1,347.9) scale(.9,1)" class="n" fill="#1a1a1a">96</text>
<text transform="translate(685.4,300.4) scale(.9,1)" class="n" fill="#1a1a1a">81</text>
<text transform="translate(727.8,347.9) scale(.9,1)" class="n" fill="#7d7d7d">39</text>
<text transform="translate(756.0,284.6) scale(.9,1)" class="n" fill="#1a1a1a">81</text>
<text transform="translate(798.3,268.7) scale(.9,1)" class="n" fill="#7d7d7d">39</text>
<g stroke="#000" stroke-width="1.5" fill="none" stroke-linejoin="miter">
<polygon points="205.5,250.0 205.5,229.7 7.7,229.7 7.7,250.0 106.7,360.9 205.5,250.0"/>
<polygon points="855.3,250.0 855.3,229.7 205.5,229.7 205.5,250.0 530.1,614.5 855.3,250.0"/>
</g>
</svg>
</body></html>
